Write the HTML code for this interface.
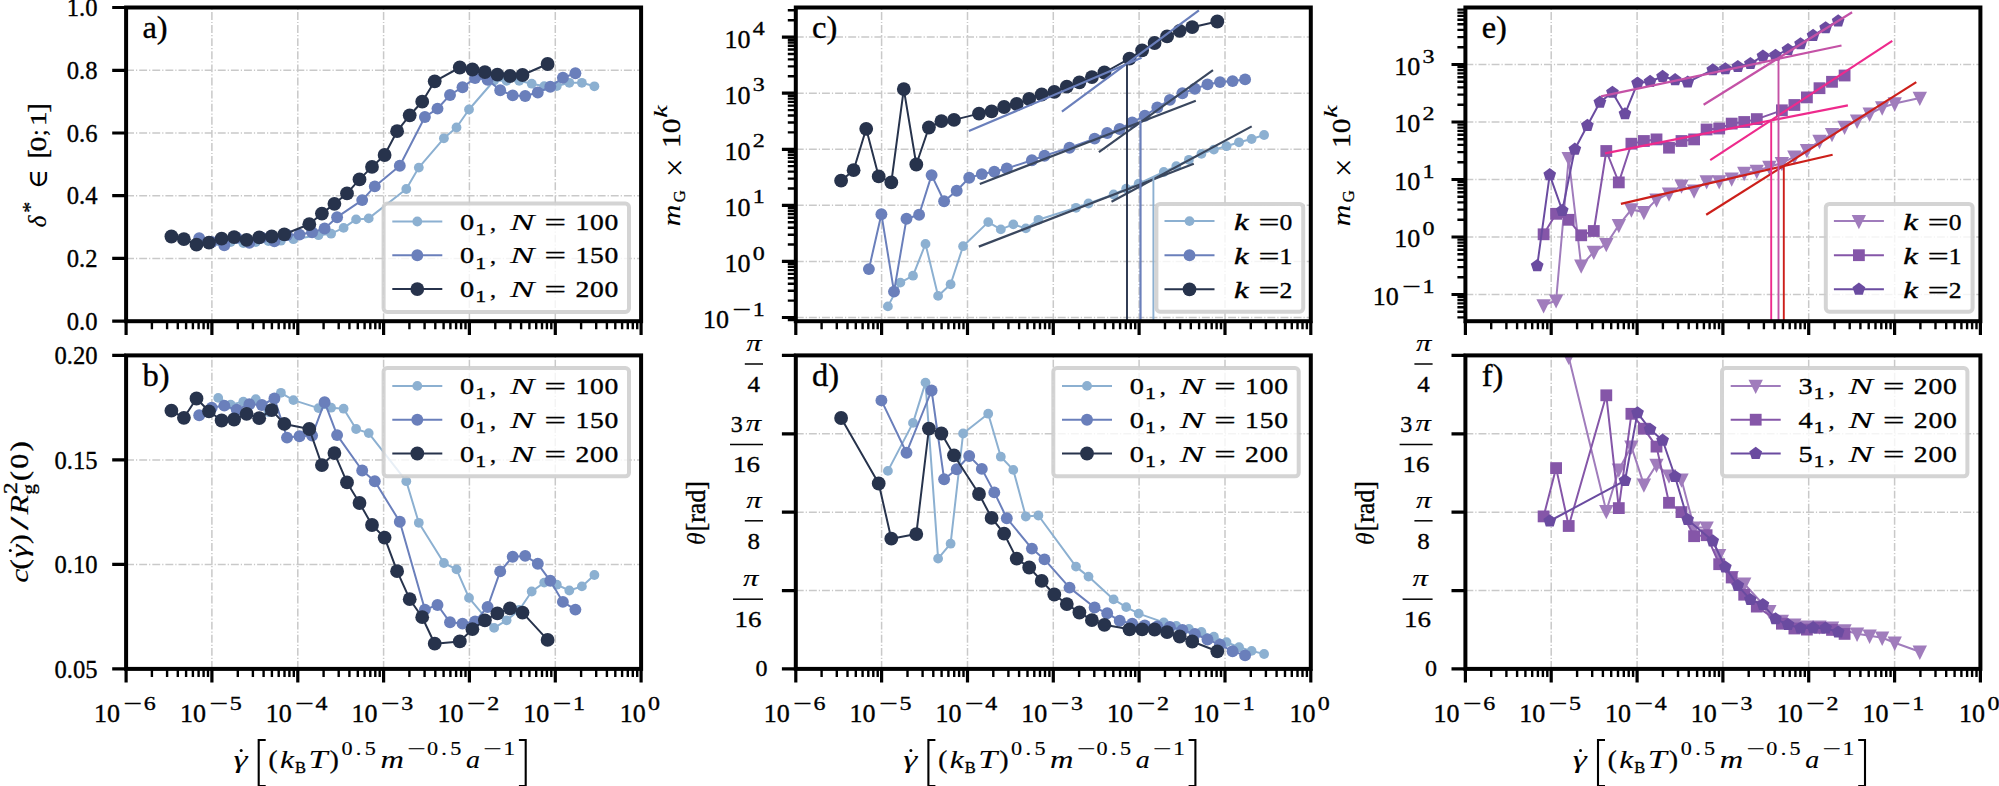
<!DOCTYPE html>
<html><head><meta charset="utf-8"><title>Figure</title>
<style>
html,body{margin:0;padding:0;background:#fff;}
svg{display:block}
text{font-family:"Liberation Serif","DejaVu Serif",serif;fill:#000;stroke:#000;stroke-width:0.35px}
.i{font-style:italic;stroke-width:0.1px}
.bi{font-style:italic;font-weight:bold}
</style></head><body>
<svg width="1999" height="786" viewBox="0 0 1999 786">
<rect width="1999" height="786" fill="#fff"/>
<defs>
<clipPath id="cpa"><rect x="126.1" y="7.5" width="515.0" height="313.7"/></clipPath>
<clipPath id="cpb"><rect x="126.1" y="355.4" width="515.0" height="313.5"/></clipPath>
<clipPath id="cpc"><rect x="795.8" y="7.5" width="515.0" height="313.7"/></clipPath>
<clipPath id="cpd"><rect x="795.8" y="355.4" width="515.0" height="313.5"/></clipPath>
<clipPath id="cpe"><rect x="1465.4" y="7.5" width="515.0" height="313.7"/></clipPath>
<clipPath id="cpf"><rect x="1465.4" y="355.4" width="515.0" height="313.5"/></clipPath>
</defs>
<g id="panel-a">
<path d="M211.9 321.2V7.5M297.8 321.2V7.5M383.6 321.2V7.5M469.4 321.2V7.5M555.3 321.2V7.5M126.1 70.3H641.1M126.1 133.0H641.1M126.1 195.7H641.1M126.1 258.4H641.1" stroke="#c9c9c9" stroke-width="1.5" stroke-dasharray="7.9 2 1.2 2" fill="none"/>
<g clip-path="url(#cpa)">
<polyline fill="none" stroke="#8cb0d1" stroke-width="2.0" stroke-linejoin="round" points="218.2,241.0 230.7,242.0 243.3,243.0 255.8,242.0 268.4,241.0 280.9,240.7 293.4,239.2 318.5,235.2 331.1,233.7 343.6,227.9 356.1,219.4 368.7,218.4 406.3,189.0 418.8,167.6 443.9,138.3 456.5,127.5 469.0,109.5 494.1,80.5 506.6,80.8 519.2,80.8 531.7,83.7 544.2,86.2 556.8,86.0 569.3,82.8 581.9,82.8 594.4,86.3"/><circle cx="218.2" cy="241.0" r="4.90" fill="#8cb0d1"/><circle cx="230.7" cy="242.0" r="4.90" fill="#8cb0d1"/><circle cx="243.3" cy="243.0" r="4.90" fill="#8cb0d1"/><circle cx="255.8" cy="242.0" r="4.90" fill="#8cb0d1"/><circle cx="268.4" cy="241.0" r="4.90" fill="#8cb0d1"/><circle cx="280.9" cy="240.7" r="4.90" fill="#8cb0d1"/><circle cx="293.4" cy="239.2" r="4.90" fill="#8cb0d1"/><circle cx="318.5" cy="235.2" r="4.90" fill="#8cb0d1"/><circle cx="331.1" cy="233.7" r="4.90" fill="#8cb0d1"/><circle cx="343.6" cy="227.9" r="4.90" fill="#8cb0d1"/><circle cx="356.1" cy="219.4" r="4.90" fill="#8cb0d1"/><circle cx="368.7" cy="218.4" r="4.90" fill="#8cb0d1"/><circle cx="406.3" cy="189.0" r="4.90" fill="#8cb0d1"/><circle cx="418.8" cy="167.6" r="4.90" fill="#8cb0d1"/><circle cx="443.9" cy="138.3" r="4.90" fill="#8cb0d1"/><circle cx="456.5" cy="127.5" r="4.90" fill="#8cb0d1"/><circle cx="469.0" cy="109.5" r="4.90" fill="#8cb0d1"/><circle cx="494.1" cy="80.5" r="4.90" fill="#8cb0d1"/><circle cx="506.6" cy="80.8" r="4.90" fill="#8cb0d1"/><circle cx="519.2" cy="80.8" r="4.90" fill="#8cb0d1"/><circle cx="531.7" cy="83.7" r="4.90" fill="#8cb0d1"/><circle cx="544.2" cy="86.2" r="4.90" fill="#8cb0d1"/><circle cx="556.8" cy="86.0" r="4.90" fill="#8cb0d1"/><circle cx="569.3" cy="82.8" r="4.90" fill="#8cb0d1"/><circle cx="581.9" cy="82.8" r="4.90" fill="#8cb0d1"/><circle cx="594.4" cy="86.3" r="4.90" fill="#8cb0d1"/>
<polyline fill="none" stroke="#6a7fbb" stroke-width="2.0" stroke-linejoin="round" points="199.2,238.3 211.7,242.0 224.3,245.3 236.8,237.9 249.4,242.9 261.9,237.6 274.4,241.3 287.0,235.0 299.5,234.6 312.1,232.2 324.6,228.5 337.1,217.2 362.2,200.1 374.8,186.4 399.8,165.7 424.9,117.0 437.5,108.6 450.0,95.0 462.5,87.2 475.1,78.1 487.6,79.7 500.2,90.3 512.7,95.4 525.2,96.0 537.8,92.5 550.3,86.8 562.9,77.7 575.4,73.2"/><circle cx="199.2" cy="238.3" r="5.95" fill="#6a7fbb"/><circle cx="211.7" cy="242.0" r="5.95" fill="#6a7fbb"/><circle cx="224.3" cy="245.3" r="5.95" fill="#6a7fbb"/><circle cx="236.8" cy="237.9" r="5.95" fill="#6a7fbb"/><circle cx="249.4" cy="242.9" r="5.95" fill="#6a7fbb"/><circle cx="261.9" cy="237.6" r="5.95" fill="#6a7fbb"/><circle cx="274.4" cy="241.3" r="5.95" fill="#6a7fbb"/><circle cx="287.0" cy="235.0" r="5.95" fill="#6a7fbb"/><circle cx="299.5" cy="234.6" r="5.95" fill="#6a7fbb"/><circle cx="312.1" cy="232.2" r="5.95" fill="#6a7fbb"/><circle cx="324.6" cy="228.5" r="5.95" fill="#6a7fbb"/><circle cx="337.1" cy="217.2" r="5.95" fill="#6a7fbb"/><circle cx="362.2" cy="200.1" r="5.95" fill="#6a7fbb"/><circle cx="374.8" cy="186.4" r="5.95" fill="#6a7fbb"/><circle cx="399.8" cy="165.7" r="5.95" fill="#6a7fbb"/><circle cx="424.9" cy="117.0" r="5.95" fill="#6a7fbb"/><circle cx="437.5" cy="108.6" r="5.95" fill="#6a7fbb"/><circle cx="450.0" cy="95.0" r="5.95" fill="#6a7fbb"/><circle cx="462.5" cy="87.2" r="5.95" fill="#6a7fbb"/><circle cx="475.1" cy="78.1" r="5.95" fill="#6a7fbb"/><circle cx="487.6" cy="79.7" r="5.95" fill="#6a7fbb"/><circle cx="500.2" cy="90.3" r="5.95" fill="#6a7fbb"/><circle cx="512.7" cy="95.4" r="5.95" fill="#6a7fbb"/><circle cx="525.2" cy="96.0" r="5.95" fill="#6a7fbb"/><circle cx="537.8" cy="92.5" r="5.95" fill="#6a7fbb"/><circle cx="550.3" cy="86.8" r="5.95" fill="#6a7fbb"/><circle cx="562.9" cy="77.7" r="5.95" fill="#6a7fbb"/><circle cx="575.4" cy="73.2" r="5.95" fill="#6a7fbb"/>
<polyline fill="none" stroke="#27334c" stroke-width="2.0" stroke-linejoin="round" points="171.4,236.5 183.9,239.2 196.5,244.7 209.0,242.6 221.6,238.6 234.1,237.1 246.6,239.8 259.2,237.4 271.7,236.5 284.3,234.3 309.3,224.2 321.9,213.6 334.4,203.8 347.0,193.4 359.5,179.4 372.0,166.9 384.6,155.0 397.1,131.2 409.7,115.3 422.2,101.7 434.7,81.3 459.8,67.5 472.4,69.5 484.9,72.2 497.4,74.6 510.0,76.0 522.5,75.0 547.6,64.0"/><circle cx="171.4" cy="236.5" r="6.90" fill="#27334c"/><circle cx="183.9" cy="239.2" r="6.90" fill="#27334c"/><circle cx="196.5" cy="244.7" r="6.90" fill="#27334c"/><circle cx="209.0" cy="242.6" r="6.90" fill="#27334c"/><circle cx="221.6" cy="238.6" r="6.90" fill="#27334c"/><circle cx="234.1" cy="237.1" r="6.90" fill="#27334c"/><circle cx="246.6" cy="239.8" r="6.90" fill="#27334c"/><circle cx="259.2" cy="237.4" r="6.90" fill="#27334c"/><circle cx="271.7" cy="236.5" r="6.90" fill="#27334c"/><circle cx="284.3" cy="234.3" r="6.90" fill="#27334c"/><circle cx="309.3" cy="224.2" r="6.90" fill="#27334c"/><circle cx="321.9" cy="213.6" r="6.90" fill="#27334c"/><circle cx="334.4" cy="203.8" r="6.90" fill="#27334c"/><circle cx="347.0" cy="193.4" r="6.90" fill="#27334c"/><circle cx="359.5" cy="179.4" r="6.90" fill="#27334c"/><circle cx="372.0" cy="166.9" r="6.90" fill="#27334c"/><circle cx="384.6" cy="155.0" r="6.90" fill="#27334c"/><circle cx="397.1" cy="131.2" r="6.90" fill="#27334c"/><circle cx="409.7" cy="115.3" r="6.90" fill="#27334c"/><circle cx="422.2" cy="101.7" r="6.90" fill="#27334c"/><circle cx="434.7" cy="81.3" r="6.90" fill="#27334c"/><circle cx="459.8" cy="67.5" r="6.90" fill="#27334c"/><circle cx="472.4" cy="69.5" r="6.90" fill="#27334c"/><circle cx="484.9" cy="72.2" r="6.90" fill="#27334c"/><circle cx="497.4" cy="74.6" r="6.90" fill="#27334c"/><circle cx="510.0" cy="76.0" r="6.90" fill="#27334c"/><circle cx="522.5" cy="75.0" r="6.90" fill="#27334c"/><circle cx="547.6" cy="64.0" r="6.90" fill="#27334c"/>
</g>
<path d="M151.9 321.2v8M167.1 321.2v8M177.8 321.2v8M186.1 321.2v8M192.9 321.2v8M198.6 321.2v8M203.6 321.2v8M208.0 321.2v8M237.8 321.2v8M252.9 321.2v8M263.6 321.2v8M271.9 321.2v8M278.7 321.2v8M284.5 321.2v8M289.4 321.2v8M293.8 321.2v8M323.6 321.2v8M338.7 321.2v8M349.4 321.2v8M357.8 321.2v8M364.6 321.2v8M370.3 321.2v8M375.3 321.2v8M379.7 321.2v8M409.4 321.2v8M424.6 321.2v8M435.3 321.2v8M443.6 321.2v8M450.4 321.2v8M456.1 321.2v8M461.1 321.2v8M465.5 321.2v8M495.3 321.2v8M510.4 321.2v8M521.1 321.2v8M529.4 321.2v8M536.2 321.2v8M542.0 321.2v8M546.9 321.2v8M551.3 321.2v8M581.1 321.2v8M596.2 321.2v8M606.9 321.2v8M615.3 321.2v8M622.1 321.2v8M627.8 321.2v8M632.8 321.2v8M637.2 321.2v8" stroke="#000" stroke-width="2.4" fill="none"/>
<path d="M126.1 321.2v13.7M211.9 321.2v13.7M297.8 321.2v13.7M383.6 321.2v13.7M469.4 321.2v13.7M555.3 321.2v13.7M641.1 321.2v13.7M126.1 7.5h-13.9M126.1 70.3h-13.9M126.1 133.0h-13.9M126.1 195.7h-13.9M126.1 258.4h-13.9M126.1 321.2h-13.9" stroke="#000" stroke-width="3.2" fill="none"/>
<rect x="126.1" y="7.5" width="515.0" height="313.7" fill="none" stroke="#000" stroke-width="4"/>
<text x="142.4" y="37.9" font-size="32.5">a)</text>
</g>
<g id="panel-b">
<path d="M211.9 668.9V355.4M297.8 668.9V355.4M383.6 668.9V355.4M469.4 668.9V355.4M555.3 668.9V355.4M126.1 459.9H641.1M126.1 564.4H641.1" stroke="#c9c9c9" stroke-width="1.5" stroke-dasharray="7.9 2 1.2 2" fill="none"/>
<g clip-path="url(#cpb)">
<polyline fill="none" stroke="#8cb0d1" stroke-width="2.0" stroke-linejoin="round" points="218.2,397.9 230.7,404.6 243.3,401.6 255.8,399.1 268.4,412.0 280.9,392.8 293.4,400.1 318.5,408.1 331.1,407.7 343.6,408.7 356.1,429.0 368.7,433.1 406.3,481.2 418.8,522.8 443.9,563.0 456.5,569.4 469.0,597.9 494.1,627.9 506.6,620.3 519.2,610.0 531.7,591.5 544.2,582.6 556.8,584.7 569.3,590.5 581.9,586.4 594.4,575.0"/><circle cx="218.2" cy="397.9" r="4.90" fill="#8cb0d1"/><circle cx="230.7" cy="404.6" r="4.90" fill="#8cb0d1"/><circle cx="243.3" cy="401.6" r="4.90" fill="#8cb0d1"/><circle cx="255.8" cy="399.1" r="4.90" fill="#8cb0d1"/><circle cx="268.4" cy="412.0" r="4.90" fill="#8cb0d1"/><circle cx="280.9" cy="392.8" r="4.90" fill="#8cb0d1"/><circle cx="293.4" cy="400.1" r="4.90" fill="#8cb0d1"/><circle cx="318.5" cy="408.1" r="4.90" fill="#8cb0d1"/><circle cx="331.1" cy="407.7" r="4.90" fill="#8cb0d1"/><circle cx="343.6" cy="408.7" r="4.90" fill="#8cb0d1"/><circle cx="356.1" cy="429.0" r="4.90" fill="#8cb0d1"/><circle cx="368.7" cy="433.1" r="4.90" fill="#8cb0d1"/><circle cx="406.3" cy="481.2" r="4.90" fill="#8cb0d1"/><circle cx="418.8" cy="522.8" r="4.90" fill="#8cb0d1"/><circle cx="443.9" cy="563.0" r="4.90" fill="#8cb0d1"/><circle cx="456.5" cy="569.4" r="4.90" fill="#8cb0d1"/><circle cx="469.0" cy="597.9" r="4.90" fill="#8cb0d1"/><circle cx="494.1" cy="627.9" r="4.90" fill="#8cb0d1"/><circle cx="506.6" cy="620.3" r="4.90" fill="#8cb0d1"/><circle cx="519.2" cy="610.0" r="4.90" fill="#8cb0d1"/><circle cx="531.7" cy="591.5" r="4.90" fill="#8cb0d1"/><circle cx="544.2" cy="582.6" r="4.90" fill="#8cb0d1"/><circle cx="556.8" cy="584.7" r="4.90" fill="#8cb0d1"/><circle cx="569.3" cy="590.5" r="4.90" fill="#8cb0d1"/><circle cx="581.9" cy="586.4" r="4.90" fill="#8cb0d1"/><circle cx="594.4" cy="575.0" r="4.90" fill="#8cb0d1"/>
<polyline fill="none" stroke="#6a7fbb" stroke-width="2.0" stroke-linejoin="round" points="199.2,415.2 211.7,407.7 224.3,405.6 236.8,409.7 249.4,404.2 261.9,405.0 274.4,398.5 287.0,437.6 299.5,436.2 312.1,435.6 324.6,402.2 337.1,435.1 362.2,470.5 374.8,481.2 399.8,521.8 424.9,609.6 437.5,605.0 450.0,622.3 462.5,623.6 475.1,621.5 487.6,607.0 500.2,571.4 512.7,556.7 525.2,555.9 537.8,563.8 550.3,580.8 562.9,601.9 575.4,609.6"/><circle cx="199.2" cy="415.2" r="5.95" fill="#6a7fbb"/><circle cx="211.7" cy="407.7" r="5.95" fill="#6a7fbb"/><circle cx="224.3" cy="405.6" r="5.95" fill="#6a7fbb"/><circle cx="236.8" cy="409.7" r="5.95" fill="#6a7fbb"/><circle cx="249.4" cy="404.2" r="5.95" fill="#6a7fbb"/><circle cx="261.9" cy="405.0" r="5.95" fill="#6a7fbb"/><circle cx="274.4" cy="398.5" r="5.95" fill="#6a7fbb"/><circle cx="287.0" cy="437.6" r="5.95" fill="#6a7fbb"/><circle cx="299.5" cy="436.2" r="5.95" fill="#6a7fbb"/><circle cx="312.1" cy="435.6" r="5.95" fill="#6a7fbb"/><circle cx="324.6" cy="402.2" r="5.95" fill="#6a7fbb"/><circle cx="337.1" cy="435.1" r="5.95" fill="#6a7fbb"/><circle cx="362.2" cy="470.5" r="5.95" fill="#6a7fbb"/><circle cx="374.8" cy="481.2" r="5.95" fill="#6a7fbb"/><circle cx="399.8" cy="521.8" r="5.95" fill="#6a7fbb"/><circle cx="424.9" cy="609.6" r="5.95" fill="#6a7fbb"/><circle cx="437.5" cy="605.0" r="5.95" fill="#6a7fbb"/><circle cx="450.0" cy="622.3" r="5.95" fill="#6a7fbb"/><circle cx="462.5" cy="623.6" r="5.95" fill="#6a7fbb"/><circle cx="475.1" cy="621.5" r="5.95" fill="#6a7fbb"/><circle cx="487.6" cy="607.0" r="5.95" fill="#6a7fbb"/><circle cx="500.2" cy="571.4" r="5.95" fill="#6a7fbb"/><circle cx="512.7" cy="556.7" r="5.95" fill="#6a7fbb"/><circle cx="525.2" cy="555.9" r="5.95" fill="#6a7fbb"/><circle cx="537.8" cy="563.8" r="5.95" fill="#6a7fbb"/><circle cx="550.3" cy="580.8" r="5.95" fill="#6a7fbb"/><circle cx="562.9" cy="601.9" r="5.95" fill="#6a7fbb"/><circle cx="575.4" cy="609.6" r="5.95" fill="#6a7fbb"/>
<polyline fill="none" stroke="#27334c" stroke-width="2.0" stroke-linejoin="round" points="171.4,410.7 183.9,417.8 196.5,398.5 209.0,411.3 221.6,420.5 234.1,419.5 246.6,413.8 259.2,418.2 271.7,410.1 284.3,423.9 309.3,429.0 321.9,465.1 334.4,453.1 347.0,482.4 359.5,503.0 372.0,525.0 384.6,537.6 397.1,571.2 409.7,599.2 422.2,617.2 434.7,643.7 459.8,641.4 472.4,629.2 484.9,620.3 497.4,613.4 510.0,608.3 522.5,612.6 547.6,639.9"/><circle cx="171.4" cy="410.7" r="6.90" fill="#27334c"/><circle cx="183.9" cy="417.8" r="6.90" fill="#27334c"/><circle cx="196.5" cy="398.5" r="6.90" fill="#27334c"/><circle cx="209.0" cy="411.3" r="6.90" fill="#27334c"/><circle cx="221.6" cy="420.5" r="6.90" fill="#27334c"/><circle cx="234.1" cy="419.5" r="6.90" fill="#27334c"/><circle cx="246.6" cy="413.8" r="6.90" fill="#27334c"/><circle cx="259.2" cy="418.2" r="6.90" fill="#27334c"/><circle cx="271.7" cy="410.1" r="6.90" fill="#27334c"/><circle cx="284.3" cy="423.9" r="6.90" fill="#27334c"/><circle cx="309.3" cy="429.0" r="6.90" fill="#27334c"/><circle cx="321.9" cy="465.1" r="6.90" fill="#27334c"/><circle cx="334.4" cy="453.1" r="6.90" fill="#27334c"/><circle cx="347.0" cy="482.4" r="6.90" fill="#27334c"/><circle cx="359.5" cy="503.0" r="6.90" fill="#27334c"/><circle cx="372.0" cy="525.0" r="6.90" fill="#27334c"/><circle cx="384.6" cy="537.6" r="6.90" fill="#27334c"/><circle cx="397.1" cy="571.2" r="6.90" fill="#27334c"/><circle cx="409.7" cy="599.2" r="6.90" fill="#27334c"/><circle cx="422.2" cy="617.2" r="6.90" fill="#27334c"/><circle cx="434.7" cy="643.7" r="6.90" fill="#27334c"/><circle cx="459.8" cy="641.4" r="6.90" fill="#27334c"/><circle cx="472.4" cy="629.2" r="6.90" fill="#27334c"/><circle cx="484.9" cy="620.3" r="6.90" fill="#27334c"/><circle cx="497.4" cy="613.4" r="6.90" fill="#27334c"/><circle cx="510.0" cy="608.3" r="6.90" fill="#27334c"/><circle cx="522.5" cy="612.6" r="6.90" fill="#27334c"/><circle cx="547.6" cy="639.9" r="6.90" fill="#27334c"/>
</g>
<path d="M151.9 668.9v8M167.1 668.9v8M177.8 668.9v8M186.1 668.9v8M192.9 668.9v8M198.6 668.9v8M203.6 668.9v8M208.0 668.9v8M237.8 668.9v8M252.9 668.9v8M263.6 668.9v8M271.9 668.9v8M278.7 668.9v8M284.5 668.9v8M289.4 668.9v8M293.8 668.9v8M323.6 668.9v8M338.7 668.9v8M349.4 668.9v8M357.8 668.9v8M364.6 668.9v8M370.3 668.9v8M375.3 668.9v8M379.7 668.9v8M409.4 668.9v8M424.6 668.9v8M435.3 668.9v8M443.6 668.9v8M450.4 668.9v8M456.1 668.9v8M461.1 668.9v8M465.5 668.9v8M495.3 668.9v8M510.4 668.9v8M521.1 668.9v8M529.4 668.9v8M536.2 668.9v8M542.0 668.9v8M546.9 668.9v8M551.3 668.9v8M581.1 668.9v8M596.2 668.9v8M606.9 668.9v8M615.3 668.9v8M622.1 668.9v8M627.8 668.9v8M632.8 668.9v8M637.2 668.9v8" stroke="#000" stroke-width="2.4" fill="none"/>
<path d="M126.1 668.9v13.7M211.9 668.9v13.7M297.8 668.9v13.7M383.6 668.9v13.7M469.4 668.9v13.7M555.3 668.9v13.7M641.1 668.9v13.7M126.1 355.4h-13.9M126.1 459.9h-13.9M126.1 564.4h-13.9M126.1 668.9h-13.9" stroke="#000" stroke-width="3.2" fill="none"/>
<rect x="126.1" y="355.4" width="515.0" height="313.5" fill="none" stroke="#000" stroke-width="4"/>
<text x="142.4" y="385.8" font-size="32.5">b)</text>
<text transform="translate(94.0 722.4) scale(1.032 1)" font-size="25.2">10</text><text transform="translate(123.6 710.1) scale(1.682 1)" font-size="19.5">−</text><text transform="translate(143.8 710.1) scale(1.231 1)" font-size="19.5">6</text>
<text transform="translate(179.9 722.4) scale(1.032 1)" font-size="25.2">10</text><text transform="translate(209.5 710.1) scale(1.682 1)" font-size="19.5">−</text><text transform="translate(229.7 710.1) scale(1.231 1)" font-size="19.5">5</text>
<text transform="translate(265.7 722.4) scale(1.032 1)" font-size="25.2">10</text><text transform="translate(295.3 710.1) scale(1.682 1)" font-size="19.5">−</text><text transform="translate(315.5 710.1) scale(1.231 1)" font-size="19.5">4</text>
<text transform="translate(351.5 722.4) scale(1.032 1)" font-size="25.2">10</text><text transform="translate(381.1 710.1) scale(1.682 1)" font-size="19.5">−</text><text transform="translate(401.3 710.1) scale(1.231 1)" font-size="19.5">3</text>
<text transform="translate(437.4 722.4) scale(1.032 1)" font-size="25.2">10</text><text transform="translate(467.0 710.1) scale(1.682 1)" font-size="19.5">−</text><text transform="translate(487.2 710.1) scale(1.231 1)" font-size="19.5">2</text>
<text transform="translate(523.2 722.4) scale(1.032 1)" font-size="25.2">10</text><text transform="translate(552.8 710.1) scale(1.682 1)" font-size="19.5">−</text><text transform="translate(573.0 710.1) scale(1.231 1)" font-size="19.5">1</text>
<text transform="translate(619.8 722.4) scale(1.032 1)" font-size="25.2">10</text><text transform="translate(648.1 710.1) scale(1.231 1)" font-size="19.5">0</text>
<text transform="translate(233.5 768.0) scale(1.421 1)" font-size="25" class="i">γ</text>
<circle cx="241.2" cy="750.5" r="1.5" fill="#000"/>
<path d="M265.7 740H258.7V786H265.7M518.9 740H525.7V786H518.9" stroke="#000" stroke-width="2.1" fill="none"/>
<text transform="translate(268.5 768.0) scale(1.081 1)" font-size="25">(</text>
<text transform="translate(280.0 768.0) scale(1.262 1)" font-size="25" class="i">k</text>
<text transform="translate(295.0 773.0) scale(0.942 1)" font-size="17.5">B</text>
<text transform="translate(308.5 768.0) scale(1.366 1)" font-size="25" class="i">T</text>
<text transform="translate(329.7 768.0) scale(1.081 1)" font-size="25">)</text>
<text transform="translate(341.4 755.0) scale(1.200 1)" font-size="18.5" letter-spacing="2.81" style="stroke-width:0.15px">0.5</text>
<text transform="translate(380.4 768.0) scale(1.302 1)" font-size="25" class="i">m</text>
<text transform="translate(407.2 755.0) scale(1.773 1)" font-size="18.5" style="stroke-width:0.15px">−</text>
<text transform="translate(426.9 755.0) scale(1.200 1)" font-size="18.5" letter-spacing="2.81" style="stroke-width:0.15px">0.5</text>
<text transform="translate(466.0 768.0) scale(1.120 1)" font-size="25" class="i">a</text>
<text transform="translate(483.2 755.0) scale(1.773 1)" font-size="18.5" style="stroke-width:0.15px">−</text>
<text transform="translate(503.2 755.0) scale(1.297 1)" font-size="18.5" style="stroke-width:0.15px">1</text>
</g>
<g id="panel-c">
<path d="M881.6 321.2V7.5M967.5 321.2V7.5M1053.3 321.2V7.5M1139.1 321.2V7.5M1225.0 321.2V7.5M795.8 317.5H1310.8M795.8 261.4H1310.8M795.8 205.3H1310.8M795.8 149.3H1310.8M795.8 93.2H1310.8M795.8 37.1H1310.8" stroke="#c9c9c9" stroke-width="1.5" stroke-dasharray="7.9 2 1.2 2" fill="none"/>
<g clip-path="url(#cpc)">
<polyline fill="none" stroke="#8cb0d1" stroke-width="2.0" stroke-linejoin="round" points="887.9,306.4 900.4,282.6 913.0,275.7 925.5,243.9 938.1,295.9 950.6,284.3 963.1,246.2 988.2,222.1 1000.8,229.4 1013.3,224.4 1025.8,228.4 1038.4,219.8 1076.0,207.8 1088.5,203.5 1113.6,194.5 1126.2,188.6 1138.7,183.6 1163.8,172.0 1176.3,166.1 1188.9,159.8 1201.4,153.9 1213.9,149.6 1226.5,146.2 1239.0,142.3 1251.6,139.0 1264.1,135.0"/><circle cx="887.9" cy="306.4" r="4.90" fill="#8cb0d1"/><circle cx="900.4" cy="282.6" r="4.90" fill="#8cb0d1"/><circle cx="913.0" cy="275.7" r="4.90" fill="#8cb0d1"/><circle cx="925.5" cy="243.9" r="4.90" fill="#8cb0d1"/><circle cx="938.1" cy="295.9" r="4.90" fill="#8cb0d1"/><circle cx="950.6" cy="284.3" r="4.90" fill="#8cb0d1"/><circle cx="963.1" cy="246.2" r="4.90" fill="#8cb0d1"/><circle cx="988.2" cy="222.1" r="4.90" fill="#8cb0d1"/><circle cx="1000.8" cy="229.4" r="4.90" fill="#8cb0d1"/><circle cx="1013.3" cy="224.4" r="4.90" fill="#8cb0d1"/><circle cx="1025.8" cy="228.4" r="4.90" fill="#8cb0d1"/><circle cx="1038.4" cy="219.8" r="4.90" fill="#8cb0d1"/><circle cx="1076.0" cy="207.8" r="4.90" fill="#8cb0d1"/><circle cx="1088.5" cy="203.5" r="4.90" fill="#8cb0d1"/><circle cx="1113.6" cy="194.5" r="4.90" fill="#8cb0d1"/><circle cx="1126.2" cy="188.6" r="4.90" fill="#8cb0d1"/><circle cx="1138.7" cy="183.6" r="4.90" fill="#8cb0d1"/><circle cx="1163.8" cy="172.0" r="4.90" fill="#8cb0d1"/><circle cx="1176.3" cy="166.1" r="4.90" fill="#8cb0d1"/><circle cx="1188.9" cy="159.8" r="4.90" fill="#8cb0d1"/><circle cx="1201.4" cy="153.9" r="4.90" fill="#8cb0d1"/><circle cx="1213.9" cy="149.6" r="4.90" fill="#8cb0d1"/><circle cx="1226.5" cy="146.2" r="4.90" fill="#8cb0d1"/><circle cx="1239.0" cy="142.3" r="4.90" fill="#8cb0d1"/><circle cx="1251.6" cy="139.0" r="4.90" fill="#8cb0d1"/><circle cx="1264.1" cy="135.0" r="4.90" fill="#8cb0d1"/>
<line x1="978.8" y1="246.6" x2="1193.8" y2="163.8" stroke="#3a475e" stroke-width="2.2"/>
<line x1="1111.5" y1="201.8" x2="1251.7" y2="126.4" stroke="#3a475e" stroke-width="2.2"/>
<line x1="1153.4" y1="177.0" x2="1153.4" y2="322.0" stroke="#8cb0d1" stroke-width="1.9"/>
<polyline fill="none" stroke="#6a7fbb" stroke-width="2.0" stroke-linejoin="round" points="868.9,269.1 881.4,214.2 894.0,291.6 906.5,218.8 919.1,214.8 931.6,175.1 944.1,201.3 956.7,190.7 969.2,177.8 981.8,174.1 994.3,171.8 1006.8,168.5 1031.9,160.2 1044.5,155.7 1069.5,147.8 1094.6,138.6 1107.2,133.0 1119.7,129.0 1132.2,122.4 1144.8,115.8 1157.3,107.5 1169.9,99.9 1182.4,93.3 1194.9,88.7 1207.5,84.4 1220.0,82.1 1232.6,81.1 1245.1,79.4"/><circle cx="868.9" cy="269.1" r="5.95" fill="#6a7fbb"/><circle cx="881.4" cy="214.2" r="5.95" fill="#6a7fbb"/><circle cx="894.0" cy="291.6" r="5.95" fill="#6a7fbb"/><circle cx="906.5" cy="218.8" r="5.95" fill="#6a7fbb"/><circle cx="919.1" cy="214.8" r="5.95" fill="#6a7fbb"/><circle cx="931.6" cy="175.1" r="5.95" fill="#6a7fbb"/><circle cx="944.1" cy="201.3" r="5.95" fill="#6a7fbb"/><circle cx="956.7" cy="190.7" r="5.95" fill="#6a7fbb"/><circle cx="969.2" cy="177.8" r="5.95" fill="#6a7fbb"/><circle cx="981.8" cy="174.1" r="5.95" fill="#6a7fbb"/><circle cx="994.3" cy="171.8" r="5.95" fill="#6a7fbb"/><circle cx="1006.8" cy="168.5" r="5.95" fill="#6a7fbb"/><circle cx="1031.9" cy="160.2" r="5.95" fill="#6a7fbb"/><circle cx="1044.5" cy="155.7" r="5.95" fill="#6a7fbb"/><circle cx="1069.5" cy="147.8" r="5.95" fill="#6a7fbb"/><circle cx="1094.6" cy="138.6" r="5.95" fill="#6a7fbb"/><circle cx="1107.2" cy="133.0" r="5.95" fill="#6a7fbb"/><circle cx="1119.7" cy="129.0" r="5.95" fill="#6a7fbb"/><circle cx="1132.2" cy="122.4" r="5.95" fill="#6a7fbb"/><circle cx="1144.8" cy="115.8" r="5.95" fill="#6a7fbb"/><circle cx="1157.3" cy="107.5" r="5.95" fill="#6a7fbb"/><circle cx="1169.9" cy="99.9" r="5.95" fill="#6a7fbb"/><circle cx="1182.4" cy="93.3" r="5.95" fill="#6a7fbb"/><circle cx="1194.9" cy="88.7" r="5.95" fill="#6a7fbb"/><circle cx="1207.5" cy="84.4" r="5.95" fill="#6a7fbb"/><circle cx="1220.0" cy="82.1" r="5.95" fill="#6a7fbb"/><circle cx="1232.6" cy="81.1" r="5.95" fill="#6a7fbb"/><circle cx="1245.1" cy="79.4" r="5.95" fill="#6a7fbb"/>
<line x1="979.8" y1="184.0" x2="1195.8" y2="100.7" stroke="#3a475e" stroke-width="2.2"/>
<line x1="1098.9" y1="152.2" x2="1213.0" y2="70.2" stroke="#3a475e" stroke-width="2.2"/>
<line x1="1140.5" y1="120.8" x2="1140.5" y2="322.0" stroke="#6a7fbb" stroke-width="2.2"/>
<polyline fill="none" stroke="#27334c" stroke-width="2.0" stroke-linejoin="round" points="841.1,180.7 853.6,170.2 866.2,128.8 878.7,176.4 891.3,182.4 903.8,89.1 916.3,164.5 928.9,127.5 941.4,121.2 954.0,119.9 979.0,113.6 991.6,111.3 1004.1,107.0 1016.7,104.0 1029.2,99.0 1041.7,94.5 1054.3,91.9 1066.8,86.6 1079.4,82.3 1091.9,77.1 1104.4,72.5 1129.5,58.6 1142.1,50.3 1154.6,43.0 1167.1,36.4 1179.7,30.8 1192.2,27.2 1217.3,21.5"/><circle cx="841.1" cy="180.7" r="6.90" fill="#27334c"/><circle cx="853.6" cy="170.2" r="6.90" fill="#27334c"/><circle cx="866.2" cy="128.8" r="6.90" fill="#27334c"/><circle cx="878.7" cy="176.4" r="6.90" fill="#27334c"/><circle cx="891.3" cy="182.4" r="6.90" fill="#27334c"/><circle cx="903.8" cy="89.1" r="6.90" fill="#27334c"/><circle cx="916.3" cy="164.5" r="6.90" fill="#27334c"/><circle cx="928.9" cy="127.5" r="6.90" fill="#27334c"/><circle cx="941.4" cy="121.2" r="6.90" fill="#27334c"/><circle cx="954.0" cy="119.9" r="6.90" fill="#27334c"/><circle cx="979.0" cy="113.6" r="6.90" fill="#27334c"/><circle cx="991.6" cy="111.3" r="6.90" fill="#27334c"/><circle cx="1004.1" cy="107.0" r="6.90" fill="#27334c"/><circle cx="1016.7" cy="104.0" r="6.90" fill="#27334c"/><circle cx="1029.2" cy="99.0" r="6.90" fill="#27334c"/><circle cx="1041.7" cy="94.5" r="6.90" fill="#27334c"/><circle cx="1054.3" cy="91.9" r="6.90" fill="#27334c"/><circle cx="1066.8" cy="86.6" r="6.90" fill="#27334c"/><circle cx="1079.4" cy="82.3" r="6.90" fill="#27334c"/><circle cx="1091.9" cy="77.1" r="6.90" fill="#27334c"/><circle cx="1104.4" cy="72.5" r="6.90" fill="#27334c"/><circle cx="1129.5" cy="58.6" r="6.90" fill="#27334c"/><circle cx="1142.1" cy="50.3" r="6.90" fill="#27334c"/><circle cx="1154.6" cy="43.0" r="6.90" fill="#27334c"/><circle cx="1167.1" cy="36.4" r="6.90" fill="#27334c"/><circle cx="1179.7" cy="30.8" r="6.90" fill="#27334c"/><circle cx="1192.2" cy="27.2" r="6.90" fill="#27334c"/><circle cx="1217.3" cy="21.5" r="6.90" fill="#27334c"/>
<line x1="968.9" y1="131.1" x2="1141.6" y2="57.7" stroke="#6a7fbb" stroke-width="2.2"/>
<line x1="1061.9" y1="111.6" x2="1198.9" y2="10.3" stroke="#6a7fbb" stroke-width="2.2"/>
<line x1="1127.0" y1="64.5" x2="1127.0" y2="322.0" stroke="#27334c" stroke-width="1.9"/>
</g>
<path d="M821.6 321.2v8M836.8 321.2v8M847.5 321.2v8M855.8 321.2v8M862.6 321.2v8M868.3 321.2v8M873.3 321.2v8M877.7 321.2v8M907.5 321.2v8M922.6 321.2v8M933.3 321.2v8M941.6 321.2v8M948.4 321.2v8M954.2 321.2v8M959.1 321.2v8M963.5 321.2v8M993.3 321.2v8M1008.4 321.2v8M1019.1 321.2v8M1027.5 321.2v8M1034.3 321.2v8M1040.0 321.2v8M1045.0 321.2v8M1049.4 321.2v8M1079.1 321.2v8M1094.3 321.2v8M1105.0 321.2v8M1113.3 321.2v8M1120.1 321.2v8M1125.8 321.2v8M1130.8 321.2v8M1135.2 321.2v8M1165.0 321.2v8M1180.1 321.2v8M1190.8 321.2v8M1199.1 321.2v8M1205.9 321.2v8M1211.7 321.2v8M1216.6 321.2v8M1221.0 321.2v8M1250.8 321.2v8M1265.9 321.2v8M1276.6 321.2v8M1285.0 321.2v8M1291.8 321.2v8M1297.5 321.2v8M1302.5 321.2v8M1306.9 321.2v8M795.8 320.1h-8M795.8 300.6h-8M795.8 290.7h-8M795.8 283.7h-8M795.8 278.3h-8M795.8 273.9h-8M795.8 270.1h-8M795.8 266.9h-8M795.8 264.0h-8M795.8 244.5h-8M795.8 234.7h-8M795.8 227.7h-8M795.8 222.2h-8M795.8 217.8h-8M795.8 214.0h-8M795.8 210.8h-8M795.8 207.9h-8M795.8 188.5h-8M795.8 178.6h-8M795.8 171.6h-8M795.8 166.1h-8M795.8 161.7h-8M795.8 157.9h-8M795.8 154.7h-8M795.8 151.8h-8M795.8 132.4h-8M795.8 122.5h-8M795.8 115.5h-8M795.8 110.1h-8M795.8 105.6h-8M795.8 101.9h-8M795.8 98.6h-8M795.8 95.7h-8M795.8 76.3h-8M795.8 66.4h-8M795.8 59.4h-8M795.8 54.0h-8M795.8 49.5h-8M795.8 45.8h-8M795.8 42.5h-8M795.8 39.7h-8M795.8 20.2h-8M795.8 10.3h-8" stroke="#000" stroke-width="2.4" fill="none"/>
<path d="M795.8 321.2v13.7M881.6 321.2v13.7M967.5 321.2v13.7M1053.3 321.2v13.7M1139.1 321.2v13.7M1225.0 321.2v13.7M1310.8 321.2v13.7M795.8 317.5h-13.9M795.8 261.4h-13.9M795.8 205.3h-13.9M795.8 149.3h-13.9M795.8 93.2h-13.9M795.8 37.1h-13.9" stroke="#000" stroke-width="3.2" fill="none"/>
<rect x="795.8" y="7.5" width="515.0" height="313.7" fill="none" stroke="#000" stroke-width="4"/>
<text x="812.1" y="37.9" font-size="32.5">c)</text>
</g>
<g id="panel-d">
<path d="M881.6 668.9V355.4M967.5 668.9V355.4M1053.3 668.9V355.4M1139.1 668.9V355.4M1225.0 668.9V355.4M795.8 433.8H1310.8M795.8 512.2H1310.8M795.8 590.6H1310.8" stroke="#c9c9c9" stroke-width="1.5" stroke-dasharray="7.9 2 1.2 2" fill="none"/>
<g clip-path="url(#cpd)">
<polyline fill="none" stroke="#8cb0d1" stroke-width="2.0" stroke-linejoin="round" points="887.9,470.9 913.0,422.9 925.5,382.6 938.1,558.6 950.6,543.7 963.1,433.5 988.2,413.7 1000.8,456.7 1013.3,469.9 1025.8,516.5 1038.4,515.5 1076.0,566.6 1088.5,576.6 1113.6,599.4 1126.2,607.1 1138.7,613.6 1163.8,622.4 1176.3,625.9 1188.9,628.9 1201.4,632.0 1213.9,636.7 1226.5,642.1 1239.0,647.2 1251.6,650.9 1264.1,654.0"/><circle cx="887.9" cy="470.9" r="4.90" fill="#8cb0d1"/><circle cx="913.0" cy="422.9" r="4.90" fill="#8cb0d1"/><circle cx="925.5" cy="382.6" r="4.90" fill="#8cb0d1"/><circle cx="938.1" cy="558.6" r="4.90" fill="#8cb0d1"/><circle cx="950.6" cy="543.7" r="4.90" fill="#8cb0d1"/><circle cx="963.1" cy="433.5" r="4.90" fill="#8cb0d1"/><circle cx="988.2" cy="413.7" r="4.90" fill="#8cb0d1"/><circle cx="1000.8" cy="456.7" r="4.90" fill="#8cb0d1"/><circle cx="1013.3" cy="469.9" r="4.90" fill="#8cb0d1"/><circle cx="1025.8" cy="516.5" r="4.90" fill="#8cb0d1"/><circle cx="1038.4" cy="515.5" r="4.90" fill="#8cb0d1"/><circle cx="1076.0" cy="566.6" r="4.90" fill="#8cb0d1"/><circle cx="1088.5" cy="576.6" r="4.90" fill="#8cb0d1"/><circle cx="1113.6" cy="599.4" r="4.90" fill="#8cb0d1"/><circle cx="1126.2" cy="607.1" r="4.90" fill="#8cb0d1"/><circle cx="1138.7" cy="613.6" r="4.90" fill="#8cb0d1"/><circle cx="1163.8" cy="622.4" r="4.90" fill="#8cb0d1"/><circle cx="1176.3" cy="625.9" r="4.90" fill="#8cb0d1"/><circle cx="1188.9" cy="628.9" r="4.90" fill="#8cb0d1"/><circle cx="1201.4" cy="632.0" r="4.90" fill="#8cb0d1"/><circle cx="1213.9" cy="636.7" r="4.90" fill="#8cb0d1"/><circle cx="1226.5" cy="642.1" r="4.90" fill="#8cb0d1"/><circle cx="1239.0" cy="647.2" r="4.90" fill="#8cb0d1"/><circle cx="1251.6" cy="650.9" r="4.90" fill="#8cb0d1"/><circle cx="1264.1" cy="654.0" r="4.90" fill="#8cb0d1"/>
<polyline fill="none" stroke="#6a7fbb" stroke-width="2.0" stroke-linejoin="round" points="881.4,400.4 906.5,452.7 931.6,390.5 944.1,479.2 956.7,469.2 969.2,456.0 981.8,468.9 994.3,492.4 1006.8,518.2 1031.9,548.6 1044.5,559.4 1069.5,587.6 1094.6,607.5 1107.2,613.2 1119.7,620.8 1132.2,623.8 1144.8,625.5 1157.3,626.5 1169.9,626.9 1182.4,629.9 1194.9,634.0 1207.5,639.5 1220.0,644.6 1232.6,651.3 1245.1,655.4"/><circle cx="881.4" cy="400.4" r="5.95" fill="#6a7fbb"/><circle cx="906.5" cy="452.7" r="5.95" fill="#6a7fbb"/><circle cx="931.6" cy="390.5" r="5.95" fill="#6a7fbb"/><circle cx="944.1" cy="479.2" r="5.95" fill="#6a7fbb"/><circle cx="956.7" cy="469.2" r="5.95" fill="#6a7fbb"/><circle cx="969.2" cy="456.0" r="5.95" fill="#6a7fbb"/><circle cx="981.8" cy="468.9" r="5.95" fill="#6a7fbb"/><circle cx="994.3" cy="492.4" r="5.95" fill="#6a7fbb"/><circle cx="1006.8" cy="518.2" r="5.95" fill="#6a7fbb"/><circle cx="1031.9" cy="548.6" r="5.95" fill="#6a7fbb"/><circle cx="1044.5" cy="559.4" r="5.95" fill="#6a7fbb"/><circle cx="1069.5" cy="587.6" r="5.95" fill="#6a7fbb"/><circle cx="1094.6" cy="607.5" r="5.95" fill="#6a7fbb"/><circle cx="1107.2" cy="613.2" r="5.95" fill="#6a7fbb"/><circle cx="1119.7" cy="620.8" r="5.95" fill="#6a7fbb"/><circle cx="1132.2" cy="623.8" r="5.95" fill="#6a7fbb"/><circle cx="1144.8" cy="625.5" r="5.95" fill="#6a7fbb"/><circle cx="1157.3" cy="626.5" r="5.95" fill="#6a7fbb"/><circle cx="1169.9" cy="626.9" r="5.95" fill="#6a7fbb"/><circle cx="1182.4" cy="629.9" r="5.95" fill="#6a7fbb"/><circle cx="1194.9" cy="634.0" r="5.95" fill="#6a7fbb"/><circle cx="1207.5" cy="639.5" r="5.95" fill="#6a7fbb"/><circle cx="1220.0" cy="644.6" r="5.95" fill="#6a7fbb"/><circle cx="1232.6" cy="651.3" r="5.95" fill="#6a7fbb"/><circle cx="1245.1" cy="655.4" r="5.95" fill="#6a7fbb"/>
<polyline fill="none" stroke="#27334c" stroke-width="2.0" stroke-linejoin="round" points="841.1,418.0 878.7,483.5 891.3,538.7 916.3,534.1 928.9,428.6 941.4,433.5 954.0,455.3 979.0,494.0 991.6,517.9 1004.1,533.7 1016.7,558.6 1029.2,567.5 1041.7,580.9 1054.3,594.5 1066.8,604.1 1079.4,612.5 1091.9,620.2 1104.4,624.8 1129.5,629.3 1142.1,629.3 1154.6,629.5 1167.1,632.2 1179.7,636.5 1192.2,641.5 1217.3,651.3"/><circle cx="841.1" cy="418.0" r="6.90" fill="#27334c"/><circle cx="878.7" cy="483.5" r="6.90" fill="#27334c"/><circle cx="891.3" cy="538.7" r="6.90" fill="#27334c"/><circle cx="916.3" cy="534.1" r="6.90" fill="#27334c"/><circle cx="928.9" cy="428.6" r="6.90" fill="#27334c"/><circle cx="941.4" cy="433.5" r="6.90" fill="#27334c"/><circle cx="954.0" cy="455.3" r="6.90" fill="#27334c"/><circle cx="979.0" cy="494.0" r="6.90" fill="#27334c"/><circle cx="991.6" cy="517.9" r="6.90" fill="#27334c"/><circle cx="1004.1" cy="533.7" r="6.90" fill="#27334c"/><circle cx="1016.7" cy="558.6" r="6.90" fill="#27334c"/><circle cx="1029.2" cy="567.5" r="6.90" fill="#27334c"/><circle cx="1041.7" cy="580.9" r="6.90" fill="#27334c"/><circle cx="1054.3" cy="594.5" r="6.90" fill="#27334c"/><circle cx="1066.8" cy="604.1" r="6.90" fill="#27334c"/><circle cx="1079.4" cy="612.5" r="6.90" fill="#27334c"/><circle cx="1091.9" cy="620.2" r="6.90" fill="#27334c"/><circle cx="1104.4" cy="624.8" r="6.90" fill="#27334c"/><circle cx="1129.5" cy="629.3" r="6.90" fill="#27334c"/><circle cx="1142.1" cy="629.3" r="6.90" fill="#27334c"/><circle cx="1154.6" cy="629.5" r="6.90" fill="#27334c"/><circle cx="1167.1" cy="632.2" r="6.90" fill="#27334c"/><circle cx="1179.7" cy="636.5" r="6.90" fill="#27334c"/><circle cx="1192.2" cy="641.5" r="6.90" fill="#27334c"/><circle cx="1217.3" cy="651.3" r="6.90" fill="#27334c"/>
</g>
<path d="M821.6 668.9v8M836.8 668.9v8M847.5 668.9v8M855.8 668.9v8M862.6 668.9v8M868.3 668.9v8M873.3 668.9v8M877.7 668.9v8M907.5 668.9v8M922.6 668.9v8M933.3 668.9v8M941.6 668.9v8M948.4 668.9v8M954.2 668.9v8M959.1 668.9v8M963.5 668.9v8M993.3 668.9v8M1008.4 668.9v8M1019.1 668.9v8M1027.5 668.9v8M1034.3 668.9v8M1040.0 668.9v8M1045.0 668.9v8M1049.4 668.9v8M1079.1 668.9v8M1094.3 668.9v8M1105.0 668.9v8M1113.3 668.9v8M1120.1 668.9v8M1125.8 668.9v8M1130.8 668.9v8M1135.2 668.9v8M1165.0 668.9v8M1180.1 668.9v8M1190.8 668.9v8M1199.1 668.9v8M1205.9 668.9v8M1211.7 668.9v8M1216.6 668.9v8M1221.0 668.9v8M1250.8 668.9v8M1265.9 668.9v8M1276.6 668.9v8M1285.0 668.9v8M1291.8 668.9v8M1297.5 668.9v8M1302.5 668.9v8M1306.9 668.9v8" stroke="#000" stroke-width="2.4" fill="none"/>
<path d="M795.8 668.9v13.7M881.6 668.9v13.7M967.5 668.9v13.7M1053.3 668.9v13.7M1139.1 668.9v13.7M1225.0 668.9v13.7M1310.8 668.9v13.7M795.8 355.4h-13.9M795.8 433.8h-13.9M795.8 512.2h-13.9M795.8 590.6h-13.9M795.8 668.9h-13.9" stroke="#000" stroke-width="3.2" fill="none"/>
<rect x="795.8" y="355.4" width="515.0" height="313.5" fill="none" stroke="#000" stroke-width="4"/>
<text x="812.1" y="385.8" font-size="32.5">d)</text>
<text transform="translate(763.8 722.4) scale(1.032 1)" font-size="25.2">10</text><text transform="translate(793.3 710.1) scale(1.682 1)" font-size="19.5">−</text><text transform="translate(813.5 710.1) scale(1.231 1)" font-size="19.5">6</text>
<text transform="translate(849.6 722.4) scale(1.032 1)" font-size="25.2">10</text><text transform="translate(879.2 710.1) scale(1.682 1)" font-size="19.5">−</text><text transform="translate(899.4 710.1) scale(1.231 1)" font-size="19.5">5</text>
<text transform="translate(935.4 722.4) scale(1.032 1)" font-size="25.2">10</text><text transform="translate(965.0 710.1) scale(1.682 1)" font-size="19.5">−</text><text transform="translate(985.2 710.1) scale(1.231 1)" font-size="19.5">4</text>
<text transform="translate(1021.2 722.4) scale(1.032 1)" font-size="25.2">10</text><text transform="translate(1050.8 710.1) scale(1.682 1)" font-size="19.5">−</text><text transform="translate(1071.0 710.1) scale(1.231 1)" font-size="19.5">3</text>
<text transform="translate(1107.1 722.4) scale(1.032 1)" font-size="25.2">10</text><text transform="translate(1136.7 710.1) scale(1.682 1)" font-size="19.5">−</text><text transform="translate(1156.9 710.1) scale(1.231 1)" font-size="19.5">2</text>
<text transform="translate(1192.9 722.4) scale(1.032 1)" font-size="25.2">10</text><text transform="translate(1222.5 710.1) scale(1.682 1)" font-size="19.5">−</text><text transform="translate(1242.7 710.1) scale(1.231 1)" font-size="19.5">1</text>
<text transform="translate(1289.5 722.4) scale(1.032 1)" font-size="25.2">10</text><text transform="translate(1317.8 710.1) scale(1.231 1)" font-size="19.5">0</text>
<text transform="translate(903.2 768.0) scale(1.421 1)" font-size="25" class="i">γ</text>
<circle cx="910.9" cy="750.5" r="1.5" fill="#000"/>
<path d="M935.4 740H928.4V786H935.4M1188.6 740H1195.4V786H1188.6" stroke="#000" stroke-width="2.1" fill="none"/>
<text transform="translate(938.2 768.0) scale(1.081 1)" font-size="25">(</text>
<text transform="translate(949.7 768.0) scale(1.262 1)" font-size="25" class="i">k</text>
<text transform="translate(964.7 773.0) scale(0.942 1)" font-size="17.5">B</text>
<text transform="translate(978.2 768.0) scale(1.366 1)" font-size="25" class="i">T</text>
<text transform="translate(999.4 768.0) scale(1.081 1)" font-size="25">)</text>
<text transform="translate(1011.1 755.0) scale(1.200 1)" font-size="18.5" letter-spacing="2.81" style="stroke-width:0.15px">0.5</text>
<text transform="translate(1050.1 768.0) scale(1.302 1)" font-size="25" class="i">m</text>
<text transform="translate(1076.9 755.0) scale(1.773 1)" font-size="18.5" style="stroke-width:0.15px">−</text>
<text transform="translate(1096.6 755.0) scale(1.200 1)" font-size="18.5" letter-spacing="2.81" style="stroke-width:0.15px">0.5</text>
<text transform="translate(1135.7 768.0) scale(1.120 1)" font-size="25" class="i">a</text>
<text transform="translate(1152.9 755.0) scale(1.773 1)" font-size="18.5" style="stroke-width:0.15px">−</text>
<text transform="translate(1172.9 755.0) scale(1.297 1)" font-size="18.5" style="stroke-width:0.15px">1</text>
</g>
<g id="panel-e">
<path d="M1551.2 321.2V7.5M1637.1 321.2V7.5M1722.9 321.2V7.5M1808.7 321.2V7.5M1894.6 321.2V7.5M1465.4 294.5H1980.4M1465.4 237.0H1980.4M1465.4 179.5H1980.4M1465.4 122.0H1980.4M1465.4 64.5H1980.4" stroke="#c9c9c9" stroke-width="1.5" stroke-dasharray="7.9 2 1.2 2" fill="none"/>
<g clip-path="url(#cpe)">
<polyline fill="none" stroke="#a07cbc" stroke-width="2.0" stroke-linejoin="round" points="1543.6,305.4 1556.1,300.5 1568.7,158.2 1581.2,265.7 1593.8,251.9 1606.3,244.2 1618.8,225.1 1631.4,209.5 1643.9,212.2 1656.5,199.6 1669.0,193.6 1681.5,185.7 1694.1,190.7 1706.6,181.4 1719.2,181.4 1731.7,178.6 1744.2,173.0 1756.8,171.0 1769.3,166.8 1781.9,163.1 1794.4,156.7 1806.9,150.1 1819.5,141.0 1832.0,134.1 1844.6,126.9 1857.1,120.8 1869.6,113.8 1882.2,107.5 1894.7,103.5 1919.8,97.9"/><polygon points="1536.4,299.2 1550.8,299.2 1543.6,313.5" fill="#a07cbc"/><polygon points="1549.0,294.4 1563.3,294.4 1556.1,308.6" fill="#a07cbc"/><polygon points="1561.5,152.0 1575.8,152.0 1568.7,166.3" fill="#a07cbc"/><polygon points="1574.1,259.6 1588.4,259.6 1581.2,273.8" fill="#a07cbc"/><polygon points="1586.6,245.8 1600.9,245.8 1593.8,260.1" fill="#a07cbc"/><polygon points="1599.1,238.0 1613.5,238.0 1606.3,252.3" fill="#a07cbc"/><polygon points="1611.7,218.9 1626.0,218.9 1618.8,233.2" fill="#a07cbc"/><polygon points="1624.2,203.3 1638.5,203.3 1631.4,217.7" fill="#a07cbc"/><polygon points="1636.8,206.0 1651.1,206.0 1643.9,220.3" fill="#a07cbc"/><polygon points="1649.3,193.4 1663.6,193.4 1656.5,207.8" fill="#a07cbc"/><polygon points="1661.8,187.4 1676.2,187.4 1669.0,201.8" fill="#a07cbc"/><polygon points="1674.4,179.5 1688.7,179.5 1681.5,193.8" fill="#a07cbc"/><polygon points="1686.9,184.5 1701.2,184.5 1694.1,198.8" fill="#a07cbc"/><polygon points="1699.5,175.2 1713.8,175.2 1706.6,189.6" fill="#a07cbc"/><polygon points="1712.0,175.2 1726.3,175.2 1719.2,189.6" fill="#a07cbc"/><polygon points="1724.5,172.4 1738.8,172.4 1731.7,186.8" fill="#a07cbc"/><polygon points="1737.1,166.8 1751.4,166.8 1744.2,181.2" fill="#a07cbc"/><polygon points="1749.6,164.8 1763.9,164.8 1756.8,179.2" fill="#a07cbc"/><polygon points="1762.2,160.7 1776.5,160.7 1769.3,175.0" fill="#a07cbc"/><polygon points="1774.7,156.9 1789.0,156.9 1781.9,171.2" fill="#a07cbc"/><polygon points="1787.2,150.5 1801.5,150.5 1794.4,164.8" fill="#a07cbc"/><polygon points="1799.8,143.9 1814.1,143.9 1806.9,158.2" fill="#a07cbc"/><polygon points="1812.3,134.8 1826.6,134.8 1819.5,149.2" fill="#a07cbc"/><polygon points="1824.9,127.9 1839.2,127.9 1832.0,142.2" fill="#a07cbc"/><polygon points="1837.4,120.8 1851.7,120.8 1844.6,135.1" fill="#a07cbc"/><polygon points="1849.9,114.6 1864.2,114.6 1857.1,128.9" fill="#a07cbc"/><polygon points="1862.5,107.6 1876.8,107.6 1869.6,122.0" fill="#a07cbc"/><polygon points="1875.0,101.3 1889.3,101.3 1882.2,115.7" fill="#a07cbc"/><polygon points="1887.6,97.3 1901.9,97.3 1894.7,111.7" fill="#a07cbc"/><polygon points="1912.6,91.8 1927.0,91.8 1919.8,106.1" fill="#a07cbc"/>
<line x1="1620.9" y1="203.9" x2="1832.6" y2="154.7" stroke="#cc1f1a" stroke-width="2.2"/>
<line x1="1706.2" y1="214.8" x2="1916.3" y2="82.1" stroke="#cc1f1a" stroke-width="2.2"/>
<line x1="1783.8" y1="166.4" x2="1783.8" y2="322.0" stroke="#cc1f1a" stroke-width="1.9"/>
<polyline fill="none" stroke="#8556a8" stroke-width="2.0" stroke-linejoin="round" points="1543.6,234.3 1556.1,213.8 1568.7,219.8 1581.2,235.3 1593.8,231.0 1606.3,151.0 1618.8,182.4 1631.4,143.7 1643.9,141.0 1656.5,139.4 1669.0,147.7 1681.5,141.0 1694.1,139.4 1706.6,129.5 1719.2,128.5 1731.7,123.6 1744.2,122.0 1756.8,119.1 1781.9,110.3 1794.4,105.0 1806.9,97.4 1819.5,88.2 1832.0,81.8 1844.6,75.5"/><rect x="1537.7" y="228.4" width="11.8" height="11.8" fill="#8556a8"/><rect x="1550.2" y="207.9" width="11.8" height="11.8" fill="#8556a8"/><rect x="1562.8" y="213.9" width="11.8" height="11.8" fill="#8556a8"/><rect x="1575.3" y="229.4" width="11.8" height="11.8" fill="#8556a8"/><rect x="1587.9" y="225.1" width="11.8" height="11.8" fill="#8556a8"/><rect x="1600.4" y="145.1" width="11.8" height="11.8" fill="#8556a8"/><rect x="1612.9" y="176.5" width="11.8" height="11.8" fill="#8556a8"/><rect x="1625.5" y="137.8" width="11.8" height="11.8" fill="#8556a8"/><rect x="1638.0" y="135.1" width="11.8" height="11.8" fill="#8556a8"/><rect x="1650.6" y="133.5" width="11.8" height="11.8" fill="#8556a8"/><rect x="1663.1" y="141.8" width="11.8" height="11.8" fill="#8556a8"/><rect x="1675.6" y="135.1" width="11.8" height="11.8" fill="#8556a8"/><rect x="1688.2" y="133.5" width="11.8" height="11.8" fill="#8556a8"/><rect x="1700.7" y="123.6" width="11.8" height="11.8" fill="#8556a8"/><rect x="1713.3" y="122.6" width="11.8" height="11.8" fill="#8556a8"/><rect x="1725.8" y="117.7" width="11.8" height="11.8" fill="#8556a8"/><rect x="1738.3" y="116.1" width="11.8" height="11.8" fill="#8556a8"/><rect x="1750.9" y="113.2" width="11.8" height="11.8" fill="#8556a8"/><rect x="1776.0" y="104.4" width="11.8" height="11.8" fill="#8556a8"/><rect x="1788.5" y="99.1" width="11.8" height="11.8" fill="#8556a8"/><rect x="1801.0" y="91.5" width="11.8" height="11.8" fill="#8556a8"/><rect x="1813.6" y="82.3" width="11.8" height="11.8" fill="#8556a8"/><rect x="1826.1" y="75.9" width="11.8" height="11.8" fill="#8556a8"/><rect x="1838.7" y="69.6" width="11.8" height="11.8" fill="#8556a8"/>
<line x1="1605.0" y1="153.3" x2="1847.9" y2="105.3" stroke="#ee2a8c" stroke-width="2.2"/>
<line x1="1710.2" y1="160.2" x2="1892.3" y2="40.9" stroke="#ee2a8c" stroke-width="2.2"/>
<line x1="1771.2" y1="121.3" x2="1771.2" y2="322.0" stroke="#ee2a8c" stroke-width="1.9"/>
<polyline fill="none" stroke="#6a4ba0" stroke-width="2.0" stroke-linejoin="round" points="1537.2,265.8 1549.7,174.8 1562.3,210.5 1574.8,149.3 1587.4,125.5 1599.9,102.3 1612.4,92.4 1625.0,113.9 1637.5,83.2 1650.1,81.5 1662.6,76.5 1675.1,79.8 1687.7,82.2 1712.8,69.9 1725.3,68.9 1737.8,66.7 1750.4,63.6 1762.9,56.1 1775.5,55.4 1788.0,49.7 1800.5,43.9 1813.1,35.5 1825.6,27.9 1838.2,21.0"/><polygon points="1537.2,259.1 1543.6,263.7 1541.1,271.2 1533.3,271.2 1530.8,263.7" fill="#6a4ba0"/><polygon points="1549.7,168.1 1556.1,172.7 1553.7,180.2 1545.8,180.2 1543.4,172.7" fill="#6a4ba0"/><polygon points="1562.3,203.8 1568.6,208.4 1566.2,215.9 1558.4,215.9 1555.9,208.4" fill="#6a4ba0"/><polygon points="1574.8,142.6 1581.2,147.2 1578.7,154.7 1570.9,154.7 1568.5,147.2" fill="#6a4ba0"/><polygon points="1587.4,118.8 1593.7,123.4 1591.3,130.9 1583.4,130.9 1581.0,123.4" fill="#6a4ba0"/><polygon points="1599.9,95.6 1606.3,100.2 1603.8,107.7 1596.0,107.7 1593.5,100.2" fill="#6a4ba0"/><polygon points="1612.4,85.7 1618.8,90.3 1616.4,97.8 1608.5,97.8 1606.1,90.3" fill="#6a4ba0"/><polygon points="1625.0,107.2 1631.3,111.8 1628.9,119.3 1621.1,119.3 1618.6,111.8" fill="#6a4ba0"/><polygon points="1637.5,76.5 1643.9,81.1 1641.4,88.6 1633.6,88.6 1631.2,81.1" fill="#6a4ba0"/><polygon points="1650.1,74.8 1656.4,79.4 1654.0,86.9 1646.1,86.9 1643.7,79.4" fill="#6a4ba0"/><polygon points="1662.6,69.8 1669.0,74.4 1666.5,81.9 1658.7,81.9 1656.2,74.4" fill="#6a4ba0"/><polygon points="1675.1,73.1 1681.5,77.7 1679.1,85.2 1671.2,85.2 1668.8,77.7" fill="#6a4ba0"/><polygon points="1687.7,75.5 1694.0,80.1 1691.6,87.6 1683.8,87.6 1681.3,80.1" fill="#6a4ba0"/><polygon points="1712.8,63.2 1719.1,67.8 1716.7,75.3 1708.8,75.3 1706.4,67.8" fill="#6a4ba0"/><polygon points="1725.3,62.2 1731.7,66.8 1729.2,74.3 1721.4,74.3 1718.9,66.8" fill="#6a4ba0"/><polygon points="1737.8,60.0 1744.2,64.6 1741.8,72.1 1733.9,72.1 1731.5,64.6" fill="#6a4ba0"/><polygon points="1750.4,56.9 1756.7,61.5 1754.3,69.0 1746.5,69.0 1744.0,61.5" fill="#6a4ba0"/><polygon points="1762.9,49.4 1769.3,54.0 1766.8,61.5 1759.0,61.5 1756.6,54.0" fill="#6a4ba0"/><polygon points="1775.5,48.7 1781.8,53.3 1779.4,60.8 1771.5,60.8 1769.1,53.3" fill="#6a4ba0"/><polygon points="1788.0,43.0 1794.4,47.6 1791.9,55.1 1784.1,55.1 1781.6,47.6" fill="#6a4ba0"/><polygon points="1800.5,37.2 1806.9,41.8 1804.5,49.3 1796.6,49.3 1794.2,41.8" fill="#6a4ba0"/><polygon points="1813.1,28.8 1819.4,33.4 1817.0,40.9 1809.2,40.9 1806.7,33.4" fill="#6a4ba0"/><polygon points="1825.6,21.2 1832.0,25.8 1829.5,33.3 1821.7,33.3 1819.3,25.8" fill="#6a4ba0"/><polygon points="1838.2,14.3 1844.5,18.9 1842.1,26.4 1834.2,26.4 1831.8,18.9" fill="#6a4ba0"/>
<line x1="1601.0" y1="96.4" x2="1841.5" y2="45.5" stroke="#c452a6" stroke-width="2.2"/>
<line x1="1703.6" y1="104.7" x2="1852.1" y2="12.2" stroke="#c452a6" stroke-width="2.2"/>
<line x1="1778.5" y1="59.2" x2="1778.5" y2="322.0" stroke="#c452a6" stroke-width="1.9"/>
</g>
<path d="M1491.2 321.2v8M1506.4 321.2v8M1517.1 321.2v8M1525.4 321.2v8M1532.2 321.2v8M1537.9 321.2v8M1542.9 321.2v8M1547.3 321.2v8M1577.1 321.2v8M1592.2 321.2v8M1602.9 321.2v8M1611.2 321.2v8M1618.0 321.2v8M1623.8 321.2v8M1628.7 321.2v8M1633.1 321.2v8M1662.9 321.2v8M1678.0 321.2v8M1688.7 321.2v8M1697.1 321.2v8M1703.9 321.2v8M1709.6 321.2v8M1714.6 321.2v8M1719.0 321.2v8M1748.7 321.2v8M1763.9 321.2v8M1774.6 321.2v8M1782.9 321.2v8M1789.7 321.2v8M1795.4 321.2v8M1800.4 321.2v8M1804.8 321.2v8M1834.6 321.2v8M1849.7 321.2v8M1860.4 321.2v8M1868.7 321.2v8M1875.5 321.2v8M1881.3 321.2v8M1886.2 321.2v8M1890.6 321.2v8M1920.4 321.2v8M1935.5 321.2v8M1946.2 321.2v8M1954.6 321.2v8M1961.4 321.2v8M1967.1 321.2v8M1972.1 321.2v8M1976.5 321.2v8M1465.4 317.4h-8M1465.4 311.8h-8M1465.4 307.3h-8M1465.4 303.4h-8M1465.4 300.1h-8M1465.4 297.1h-8M1465.4 277.2h-8M1465.4 267.1h-8M1465.4 259.9h-8M1465.4 254.3h-8M1465.4 249.8h-8M1465.4 245.9h-8M1465.4 242.6h-8M1465.4 239.6h-8M1465.4 219.7h-8M1465.4 209.6h-8M1465.4 202.4h-8M1465.4 196.8h-8M1465.4 192.3h-8M1465.4 188.4h-8M1465.4 185.1h-8M1465.4 182.1h-8M1465.4 162.2h-8M1465.4 152.1h-8M1465.4 144.9h-8M1465.4 139.3h-8M1465.4 134.8h-8M1465.4 130.9h-8M1465.4 127.6h-8M1465.4 124.6h-8M1465.4 104.7h-8M1465.4 94.6h-8M1465.4 87.4h-8M1465.4 81.8h-8M1465.4 77.3h-8M1465.4 73.4h-8M1465.4 70.1h-8M1465.4 67.1h-8M1465.4 47.2h-8M1465.4 37.1h-8M1465.4 29.9h-8M1465.4 24.3h-8M1465.4 19.8h-8M1465.4 15.9h-8M1465.4 12.6h-8M1465.4 9.6h-8" stroke="#000" stroke-width="2.4" fill="none"/>
<path d="M1465.4 321.2v13.7M1551.2 321.2v13.7M1637.1 321.2v13.7M1722.9 321.2v13.7M1808.7 321.2v13.7M1894.6 321.2v13.7M1980.4 321.2v13.7M1465.4 294.5h-13.9M1465.4 237.0h-13.9M1465.4 179.5h-13.9M1465.4 122.0h-13.9M1465.4 64.5h-13.9" stroke="#000" stroke-width="3.2" fill="none"/>
<rect x="1465.4" y="7.5" width="515.0" height="313.7" fill="none" stroke="#000" stroke-width="4"/>
<text x="1481.7" y="37.9" font-size="32.5">e)</text>
</g>
<g id="panel-f">
<path d="M1551.2 668.9V355.4M1637.1 668.9V355.4M1722.9 668.9V355.4M1808.7 668.9V355.4M1894.6 668.9V355.4M1465.4 433.8H1980.4M1465.4 512.2H1980.4M1465.4 590.6H1980.4" stroke="#c9c9c9" stroke-width="1.5" stroke-dasharray="7.9 2 1.2 2" fill="none"/>
<g clip-path="url(#cpf)">
<polyline fill="none" stroke="#a07cbc" stroke-width="2.0" stroke-linejoin="round" points="1568.7,357.0 1606.3,511.1 1618.8,469.7 1631.4,446.6 1643.9,484.6 1656.5,464.8 1669.0,475.7 1681.5,479.7 1694.1,527.6 1706.6,527.6 1719.2,555.0 1731.7,577.2 1744.2,583.7 1769.3,611.1 1781.9,620.9 1794.4,624.5 1806.9,626.8 1819.5,626.6 1832.0,627.8 1844.6,630.4 1857.1,633.7 1869.6,635.7 1882.2,637.8 1894.7,642.8 1919.8,651.7"/><polygon points="1561.5,350.9 1575.8,350.9 1568.7,365.1" fill="#a07cbc"/><polygon points="1599.1,505.0 1613.5,505.0 1606.3,519.2" fill="#a07cbc"/><polygon points="1611.7,463.6 1626.0,463.6 1618.8,477.8" fill="#a07cbc"/><polygon points="1624.2,440.5 1638.5,440.5 1631.4,454.8" fill="#a07cbc"/><polygon points="1636.8,478.5 1651.1,478.5 1643.9,492.8" fill="#a07cbc"/><polygon points="1649.3,458.7 1663.6,458.7 1656.5,472.9" fill="#a07cbc"/><polygon points="1661.8,469.6 1676.2,469.6 1669.0,483.8" fill="#a07cbc"/><polygon points="1674.4,473.6 1688.7,473.6 1681.5,487.8" fill="#a07cbc"/><polygon points="1686.9,521.5 1701.2,521.5 1694.1,535.8" fill="#a07cbc"/><polygon points="1699.5,521.5 1713.8,521.5 1706.6,535.8" fill="#a07cbc"/><polygon points="1712.0,548.9 1726.3,548.9 1719.2,563.1" fill="#a07cbc"/><polygon points="1724.5,571.1 1738.8,571.1 1731.7,585.4" fill="#a07cbc"/><polygon points="1737.1,577.6 1751.4,577.6 1744.2,591.9" fill="#a07cbc"/><polygon points="1762.2,605.0 1776.5,605.0 1769.3,619.2" fill="#a07cbc"/><polygon points="1774.7,614.8 1789.0,614.8 1781.9,629.0" fill="#a07cbc"/><polygon points="1787.2,618.4 1801.5,618.4 1794.4,632.6" fill="#a07cbc"/><polygon points="1799.8,620.6 1814.1,620.6 1806.9,634.9" fill="#a07cbc"/><polygon points="1812.3,620.5 1826.6,620.5 1819.5,634.8" fill="#a07cbc"/><polygon points="1824.9,621.6 1839.2,621.6 1832.0,635.9" fill="#a07cbc"/><polygon points="1837.4,624.2 1851.7,624.2 1844.6,638.5" fill="#a07cbc"/><polygon points="1849.9,627.6 1864.2,627.6 1857.1,641.9" fill="#a07cbc"/><polygon points="1862.5,629.6 1876.8,629.6 1869.6,643.9" fill="#a07cbc"/><polygon points="1875.0,631.6 1889.3,631.6 1882.2,645.9" fill="#a07cbc"/><polygon points="1887.6,636.6 1901.9,636.6 1894.7,650.9" fill="#a07cbc"/><polygon points="1912.6,645.6 1927.0,645.6 1919.8,659.9" fill="#a07cbc"/>
<polyline fill="none" stroke="#8556a8" stroke-width="2.0" stroke-linejoin="round" points="1543.6,516.4 1556.1,468.1 1568.7,526.0 1606.3,395.3 1618.8,508.1 1631.4,413.8 1643.9,428.7 1656.5,446.6 1669.0,502.8 1681.5,512.1 1694.1,536.2 1706.6,535.2 1719.2,564.2 1731.7,577.5 1744.2,594.7 1756.8,606.6 1781.9,623.7 1794.4,628.5 1806.9,629.6 1819.5,627.8 1832.0,629.9 1844.6,633.9"/><rect x="1537.7" y="510.5" width="11.8" height="11.8" fill="#8556a8"/><rect x="1550.2" y="462.2" width="11.8" height="11.8" fill="#8556a8"/><rect x="1562.8" y="520.1" width="11.8" height="11.8" fill="#8556a8"/><rect x="1600.4" y="389.4" width="11.8" height="11.8" fill="#8556a8"/><rect x="1612.9" y="502.2" width="11.8" height="11.8" fill="#8556a8"/><rect x="1625.5" y="407.9" width="11.8" height="11.8" fill="#8556a8"/><rect x="1638.0" y="422.8" width="11.8" height="11.8" fill="#8556a8"/><rect x="1650.6" y="440.7" width="11.8" height="11.8" fill="#8556a8"/><rect x="1663.1" y="496.9" width="11.8" height="11.8" fill="#8556a8"/><rect x="1675.6" y="506.2" width="11.8" height="11.8" fill="#8556a8"/><rect x="1688.2" y="530.3" width="11.8" height="11.8" fill="#8556a8"/><rect x="1700.7" y="529.3" width="11.8" height="11.8" fill="#8556a8"/><rect x="1713.3" y="558.3" width="11.8" height="11.8" fill="#8556a8"/><rect x="1725.8" y="571.6" width="11.8" height="11.8" fill="#8556a8"/><rect x="1738.3" y="588.8" width="11.8" height="11.8" fill="#8556a8"/><rect x="1750.9" y="600.7" width="11.8" height="11.8" fill="#8556a8"/><rect x="1776.0" y="617.8" width="11.8" height="11.8" fill="#8556a8"/><rect x="1788.5" y="622.6" width="11.8" height="11.8" fill="#8556a8"/><rect x="1801.0" y="623.7" width="11.8" height="11.8" fill="#8556a8"/><rect x="1813.6" y="621.9" width="11.8" height="11.8" fill="#8556a8"/><rect x="1826.1" y="624.0" width="11.8" height="11.8" fill="#8556a8"/><rect x="1838.7" y="628.0" width="11.8" height="11.8" fill="#8556a8"/>
<polyline fill="none" stroke="#6a4ba0" stroke-width="2.0" stroke-linejoin="round" points="1549.7,521.0 1625.0,480.7 1637.5,412.9 1650.1,429.4 1662.6,440.3 1675.1,476.7 1687.7,519.7 1712.8,541.0 1725.3,567.2 1737.8,585.6 1750.4,599.7 1762.9,604.6 1775.5,618.9 1788.0,624.6 1800.5,628.2 1813.1,627.8 1825.6,628.2 1838.2,632.1"/><polygon points="1549.7,514.3 1556.1,518.9 1553.7,526.4 1545.8,526.4 1543.4,518.9" fill="#6a4ba0"/><polygon points="1625.0,474.0 1631.3,478.6 1628.9,486.1 1621.1,486.1 1618.6,478.6" fill="#6a4ba0"/><polygon points="1637.5,406.2 1643.9,410.8 1641.4,418.3 1633.6,418.3 1631.2,410.8" fill="#6a4ba0"/><polygon points="1650.1,422.7 1656.4,427.3 1654.0,434.8 1646.1,434.8 1643.7,427.3" fill="#6a4ba0"/><polygon points="1662.6,433.6 1669.0,438.2 1666.5,445.7 1658.7,445.7 1656.2,438.2" fill="#6a4ba0"/><polygon points="1675.1,470.0 1681.5,474.6 1679.1,482.1 1671.2,482.1 1668.8,474.6" fill="#6a4ba0"/><polygon points="1687.7,513.0 1694.0,517.6 1691.6,525.1 1683.8,525.1 1681.3,517.6" fill="#6a4ba0"/><polygon points="1712.8,534.3 1719.1,538.9 1716.7,546.4 1708.8,546.4 1706.4,538.9" fill="#6a4ba0"/><polygon points="1725.3,560.5 1731.7,565.1 1729.2,572.6 1721.4,572.6 1718.9,565.1" fill="#6a4ba0"/><polygon points="1737.8,578.9 1744.2,583.5 1741.8,591.0 1733.9,591.0 1731.5,583.5" fill="#6a4ba0"/><polygon points="1750.4,593.0 1756.7,597.6 1754.3,605.1 1746.5,605.1 1744.0,597.6" fill="#6a4ba0"/><polygon points="1762.9,597.9 1769.3,602.5 1766.8,610.0 1759.0,610.0 1756.6,602.5" fill="#6a4ba0"/><polygon points="1775.5,612.2 1781.8,616.8 1779.4,624.3 1771.5,624.3 1769.1,616.8" fill="#6a4ba0"/><polygon points="1788.0,617.9 1794.4,622.5 1791.9,630.0 1784.1,630.0 1781.6,622.5" fill="#6a4ba0"/><polygon points="1800.5,621.5 1806.9,626.1 1804.5,633.6 1796.6,633.6 1794.2,626.1" fill="#6a4ba0"/><polygon points="1813.1,621.1 1819.4,625.7 1817.0,633.2 1809.2,633.2 1806.7,625.7" fill="#6a4ba0"/><polygon points="1825.6,621.5 1832.0,626.1 1829.5,633.6 1821.7,633.6 1819.3,626.1" fill="#6a4ba0"/><polygon points="1838.2,625.4 1844.5,630.0 1842.1,637.5 1834.2,637.5 1831.8,630.0" fill="#6a4ba0"/>
</g>
<path d="M1491.2 668.9v8M1506.4 668.9v8M1517.1 668.9v8M1525.4 668.9v8M1532.2 668.9v8M1537.9 668.9v8M1542.9 668.9v8M1547.3 668.9v8M1577.1 668.9v8M1592.2 668.9v8M1602.9 668.9v8M1611.2 668.9v8M1618.0 668.9v8M1623.8 668.9v8M1628.7 668.9v8M1633.1 668.9v8M1662.9 668.9v8M1678.0 668.9v8M1688.7 668.9v8M1697.1 668.9v8M1703.9 668.9v8M1709.6 668.9v8M1714.6 668.9v8M1719.0 668.9v8M1748.7 668.9v8M1763.9 668.9v8M1774.6 668.9v8M1782.9 668.9v8M1789.7 668.9v8M1795.4 668.9v8M1800.4 668.9v8M1804.8 668.9v8M1834.6 668.9v8M1849.7 668.9v8M1860.4 668.9v8M1868.7 668.9v8M1875.5 668.9v8M1881.3 668.9v8M1886.2 668.9v8M1890.6 668.9v8M1920.4 668.9v8M1935.5 668.9v8M1946.2 668.9v8M1954.6 668.9v8M1961.4 668.9v8M1967.1 668.9v8M1972.1 668.9v8M1976.5 668.9v8" stroke="#000" stroke-width="2.4" fill="none"/>
<path d="M1465.4 668.9v13.7M1551.2 668.9v13.7M1637.1 668.9v13.7M1722.9 668.9v13.7M1808.7 668.9v13.7M1894.6 668.9v13.7M1980.4 668.9v13.7M1465.4 355.4h-13.9M1465.4 433.8h-13.9M1465.4 512.2h-13.9M1465.4 590.6h-13.9M1465.4 668.9h-13.9" stroke="#000" stroke-width="3.2" fill="none"/>
<rect x="1465.4" y="355.4" width="515.0" height="313.5" fill="none" stroke="#000" stroke-width="4"/>
<text x="1481.7" y="385.8" font-size="32.5">f)</text>
<text transform="translate(1433.4 722.4) scale(1.032 1)" font-size="25.2">10</text><text transform="translate(1463.0 710.1) scale(1.682 1)" font-size="19.5">−</text><text transform="translate(1483.2 710.1) scale(1.231 1)" font-size="19.5">6</text>
<text transform="translate(1519.2 722.4) scale(1.032 1)" font-size="25.2">10</text><text transform="translate(1548.8 710.1) scale(1.682 1)" font-size="19.5">−</text><text transform="translate(1569.0 710.1) scale(1.231 1)" font-size="19.5">5</text>
<text transform="translate(1605.0 722.4) scale(1.032 1)" font-size="25.2">10</text><text transform="translate(1634.6 710.1) scale(1.682 1)" font-size="19.5">−</text><text transform="translate(1654.8 710.1) scale(1.231 1)" font-size="19.5">4</text>
<text transform="translate(1690.8 722.4) scale(1.032 1)" font-size="25.2">10</text><text transform="translate(1720.4 710.1) scale(1.682 1)" font-size="19.5">−</text><text transform="translate(1740.6 710.1) scale(1.231 1)" font-size="19.5">3</text>
<text transform="translate(1776.7 722.4) scale(1.032 1)" font-size="25.2">10</text><text transform="translate(1806.3 710.1) scale(1.682 1)" font-size="19.5">−</text><text transform="translate(1826.5 710.1) scale(1.231 1)" font-size="19.5">2</text>
<text transform="translate(1862.5 722.4) scale(1.032 1)" font-size="25.2">10</text><text transform="translate(1892.1 710.1) scale(1.682 1)" font-size="19.5">−</text><text transform="translate(1912.3 710.1) scale(1.231 1)" font-size="19.5">1</text>
<text transform="translate(1959.1 722.4) scale(1.032 1)" font-size="25.2">10</text><text transform="translate(1987.4 710.1) scale(1.231 1)" font-size="19.5">0</text>
<text transform="translate(1572.8 768.0) scale(1.421 1)" font-size="25" class="i">γ</text>
<circle cx="1580.5" cy="750.5" r="1.5" fill="#000"/>
<path d="M1605.0 740H1598.0V786H1605.0M1858.2 740H1865.0V786H1858.2" stroke="#000" stroke-width="2.1" fill="none"/>
<text transform="translate(1607.8 768.0) scale(1.081 1)" font-size="25">(</text>
<text transform="translate(1619.3 768.0) scale(1.262 1)" font-size="25" class="i">k</text>
<text transform="translate(1634.3 773.0) scale(0.942 1)" font-size="17.5">B</text>
<text transform="translate(1647.8 768.0) scale(1.366 1)" font-size="25" class="i">T</text>
<text transform="translate(1669.0 768.0) scale(1.081 1)" font-size="25">)</text>
<text transform="translate(1680.7 755.0) scale(1.200 1)" font-size="18.5" letter-spacing="2.81" style="stroke-width:0.15px">0.5</text>
<text transform="translate(1719.7 768.0) scale(1.302 1)" font-size="25" class="i">m</text>
<text transform="translate(1746.5 755.0) scale(1.773 1)" font-size="18.5" style="stroke-width:0.15px">−</text>
<text transform="translate(1766.2 755.0) scale(1.200 1)" font-size="18.5" letter-spacing="2.81" style="stroke-width:0.15px">0.5</text>
<text transform="translate(1805.3 768.0) scale(1.120 1)" font-size="25" class="i">a</text>
<text transform="translate(1822.5 755.0) scale(1.773 1)" font-size="18.5" style="stroke-width:0.15px">−</text>
<text transform="translate(1842.5 755.0) scale(1.297 1)" font-size="18.5" style="stroke-width:0.15px">1</text>
</g>
<text x="97.5" y="16.1" font-size="24.6" text-anchor="end">1.0</text>
<text x="97.5" y="78.9" font-size="24.6" text-anchor="end">0.8</text>
<text x="97.5" y="141.6" font-size="24.6" text-anchor="end">0.6</text>
<text x="97.5" y="204.3" font-size="24.6" text-anchor="end">0.4</text>
<text x="97.5" y="267.0" font-size="24.6" text-anchor="end">0.2</text>
<text x="97.5" y="329.8" font-size="24.6" text-anchor="end">0.0</text>
<text x="97.5" y="364.0" font-size="24.6" text-anchor="end">0.20</text>
<text x="97.5" y="468.5" font-size="24.6" text-anchor="end">0.15</text>
<text x="97.5" y="573.0" font-size="24.6" text-anchor="end">0.10</text>
<text x="97.5" y="677.5" font-size="24.6" text-anchor="end">0.05</text>
<text transform="translate(703.0 327.9) scale(1.032 1)" font-size="25.2">10</text><text transform="translate(732.6 315.6) scale(1.682 1)" font-size="19.5">−</text><text transform="translate(752.8 315.6) scale(1.231 1)" font-size="19.5">1</text>
<text transform="translate(724.5 271.8) scale(1.032 1)" font-size="25.2">10</text><text transform="translate(752.8 259.5) scale(1.231 1)" font-size="19.5">0</text>
<text transform="translate(724.5 215.7) scale(1.032 1)" font-size="25.2">10</text><text transform="translate(752.8 203.4) scale(1.231 1)" font-size="19.5">1</text>
<text transform="translate(724.5 159.7) scale(1.032 1)" font-size="25.2">10</text><text transform="translate(752.8 147.4) scale(1.231 1)" font-size="19.5">2</text>
<text transform="translate(724.5 103.6) scale(1.032 1)" font-size="25.2">10</text><text transform="translate(752.8 91.3) scale(1.231 1)" font-size="19.5">3</text>
<text transform="translate(724.5 47.5) scale(1.032 1)" font-size="25.2">10</text><text transform="translate(752.8 35.2) scale(1.231 1)" font-size="19.5">4</text>
<text transform="translate(1372.7 304.9) scale(1.032 1)" font-size="25.2">10</text><text transform="translate(1402.3 292.6) scale(1.682 1)" font-size="19.5">−</text><text transform="translate(1422.5 292.6) scale(1.231 1)" font-size="19.5">1</text>
<text transform="translate(1394.2 247.4) scale(1.032 1)" font-size="25.2">10</text><text transform="translate(1422.5 235.1) scale(1.231 1)" font-size="19.5">0</text>
<text transform="translate(1394.2 189.9) scale(1.032 1)" font-size="25.2">10</text><text transform="translate(1422.5 177.6) scale(1.231 1)" font-size="19.5">1</text>
<text transform="translate(1394.2 132.4) scale(1.032 1)" font-size="25.2">10</text><text transform="translate(1422.5 120.1) scale(1.231 1)" font-size="19.5">2</text>
<text transform="translate(1394.2 74.9) scale(1.032 1)" font-size="25.2">10</text><text transform="translate(1422.5 62.6) scale(1.231 1)" font-size="19.5">3</text>
<text transform="translate(746.3 351.2) scale(1.375 1)" font-size="22.5" class="i">π</text><path d="M744.8 364.0h18.2" stroke="#000" stroke-width="1.5"/><text transform="translate(747.6 391.9) scale(1.042 1)" font-size="24">4</text>
<text transform="translate(730.7 432.2) scale(1.000 1)" font-size="24">3</text><text transform="translate(745.8 431.4) scale(1.375 1)" font-size="22.5" class="i">π</text><path d="M730.0 444.4h33.0" stroke="#000" stroke-width="1.5"/><text transform="translate(733.0 472.2) scale(1.125 1)" font-size="24">16</text>
<text transform="translate(746.3 508.0) scale(1.375 1)" font-size="22.5" class="i">π</text><path d="M744.8 520.8h18.2" stroke="#000" stroke-width="1.5"/><text transform="translate(747.6 548.7) scale(1.042 1)" font-size="24">8</text>
<text transform="translate(742.9 586.4) scale(1.375 1)" font-size="22.5" class="i">π</text><path d="M733.0 599.2h30.0" stroke="#000" stroke-width="1.5"/><text transform="translate(734.5 627.1) scale(1.125 1)" font-size="24">16</text>
<text x="767.5" y="676.4" font-size="24" text-anchor="end">0</text>
<text transform="translate(1415.9 351.2) scale(1.375 1)" font-size="22.5" class="i">π</text><path d="M1414.4 364.0h18.2" stroke="#000" stroke-width="1.5"/><text transform="translate(1417.2 391.9) scale(1.042 1)" font-size="24">4</text>
<text transform="translate(1400.3 432.2) scale(1.000 1)" font-size="24">3</text><text transform="translate(1415.4 431.4) scale(1.375 1)" font-size="22.5" class="i">π</text><path d="M1399.6 444.4h33.0" stroke="#000" stroke-width="1.5"/><text transform="translate(1402.6 472.2) scale(1.125 1)" font-size="24">16</text>
<text transform="translate(1415.9 508.0) scale(1.375 1)" font-size="22.5" class="i">π</text><path d="M1414.4 520.8h18.2" stroke="#000" stroke-width="1.5"/><text transform="translate(1417.2 548.7) scale(1.042 1)" font-size="24">8</text>
<text transform="translate(1412.5 586.4) scale(1.375 1)" font-size="22.5" class="i">π</text><path d="M1402.6 599.2h30.0" stroke="#000" stroke-width="1.5"/><text transform="translate(1404.1 627.1) scale(1.125 1)" font-size="24">16</text>
<text x="1437.1" y="676.4" font-size="24" text-anchor="end">0</text>
<g transform="translate(46.3 165.4) rotate(-90)"><text transform="translate(-62.0 0.0) scale(1.033 1)" font-size="25" class="i">δ</text><text transform="translate(-47.3 -9.0) scale(1.000 1)" font-size="22">*</text><text x="-23.6" y="1.0" font-size="27" style="stroke-width:0">∈</text><text x="7.0" y="0.8" font-size="28">[</text><text transform="translate(14.0 0.0) scale(1.250 1)" font-size="24">0</text><text x="29.3" y="0.0" font-size="24">;</text><text transform="translate(39.3 0.0) scale(1.208 1)" font-size="24">1</text><text x="53.0" y="0.8" font-size="28">]</text></g>
<g transform="translate(27.8 512.3) rotate(-90)"><text transform="translate(-70.5 0.0) scale(1.262 1)" font-size="25" class="i">c</text><text transform="translate(-57.5 0.0) scale(1.261 1)" font-size="25">(</text><text transform="translate(-45.8 0.0) scale(1.370 1)" font-size="25" class="i">γ</text><circle cx="-38.3" cy="-17.5" r="1.5" fill="#000"/><text transform="translate(-31.8 0.0) scale(1.165 1)" font-size="25">)</text><text transform="translate(-17.8 0.0) scale(1.915 1)" font-size="25">/</text><text transform="translate(-2.2 0.0) scale(1.277 1)" font-size="25" class="i">R</text><text transform="translate(18.4 -10.5) scale(1.300 1)" font-size="18">2</text><text transform="translate(17.9 7.0) scale(1.167 1)" font-size="18">g</text><text transform="translate(31.3 0.0) scale(1.200 1)" font-size="25" letter-spacing="1.97">(0)</text></g>
<g transform="translate(680.2 165.2) rotate(-90)"><text transform="translate(-61.0 0.0) scale(1.191 1)" font-size="25" class="i">m</text><text transform="translate(-37.0 4.6) scale(0.949 1)" font-size="17.5">G</text><text x="-11.8" y="5.4" font-size="33" style="stroke-width:0">×</text><text transform="translate(17.3 0.0) scale(1.180 1)" font-size="25">10</text><text transform="translate(47.5 -13.0) scale(1.565 1)" font-size="18" class="i">k</text></g>
<g transform="translate(704.5 513.0) rotate(-90)"><text transform="translate(-32.0 0.0) scale(0.979 1)" font-size="26" class="i">θ</text><text transform="translate(-18.5 0.0) scale(0.963 1)" font-size="27">[rad]</text></g>
<g transform="translate(1349.8 165.2) rotate(-90)"><text transform="translate(-61.0 0.0) scale(1.191 1)" font-size="25" class="i">m</text><text transform="translate(-37.0 4.6) scale(0.949 1)" font-size="17.5">G</text><text x="-11.8" y="5.4" font-size="33" style="stroke-width:0">×</text><text transform="translate(17.3 0.0) scale(1.180 1)" font-size="25">10</text><text transform="translate(47.5 -13.0) scale(1.565 1)" font-size="18" class="i">k</text></g>
<g transform="translate(1374.1 513.0) rotate(-90)"><text transform="translate(-32.0 0.0) scale(0.979 1)" font-size="26" class="i">θ</text><text transform="translate(-18.5 0.0) scale(0.963 1)" font-size="27">[rad]</text></g>
<rect x="383.6" y="203.6" width="245.4" height="108.3" rx="3.6" fill="#fff" fill-opacity="0.8" stroke="#cccccc" stroke-opacity="0.85" stroke-width="4"/><path d="M392.3 221.5h50" stroke="#8cb0d1" stroke-width="2.0"/><circle cx="417.3" cy="221.5" r="4.90" fill="#8cb0d1"/><text transform="translate(460.0 229.5) scale(1.235 1)" font-size="23">0</text><text transform="translate(475.2 234.7) scale(1.333 1)" font-size="16.5">1</text><text transform="translate(490.1 229.5) scale(1.091 1)" font-size="22">,</text><text transform="translate(510.1 229.5) scale(1.597 1)" font-size="23" class="i">N</text><text transform="translate(544.6 229.5) scale(1.588 1)" font-size="24">=</text><text transform="translate(575.4 229.5) scale(1.200 1)" font-size="23" letter-spacing="0.67">100</text><path d="M392.3 255.3h50" stroke="#6a7fbb" stroke-width="2.0"/><circle cx="417.3" cy="255.3" r="5.95" fill="#6a7fbb"/><text transform="translate(460.0 263.3) scale(1.235 1)" font-size="23">0</text><text transform="translate(475.2 268.5) scale(1.333 1)" font-size="16.5">1</text><text transform="translate(490.1 263.3) scale(1.091 1)" font-size="22">,</text><text transform="translate(510.1 263.3) scale(1.597 1)" font-size="23" class="i">N</text><text transform="translate(544.6 263.3) scale(1.588 1)" font-size="24">=</text><text transform="translate(575.4 263.3) scale(1.200 1)" font-size="23" letter-spacing="0.67">150</text><path d="M392.3 289.1h50" stroke="#27334c" stroke-width="2.0"/><circle cx="417.3" cy="289.1" r="6.90" fill="#27334c"/><text transform="translate(460.0 297.1) scale(1.235 1)" font-size="23">0</text><text transform="translate(475.2 302.3) scale(1.333 1)" font-size="16.5">1</text><text transform="translate(490.1 297.1) scale(1.091 1)" font-size="22">,</text><text transform="translate(510.1 297.1) scale(1.597 1)" font-size="23" class="i">N</text><text transform="translate(544.6 297.1) scale(1.588 1)" font-size="24">=</text><text transform="translate(575.4 297.1) scale(1.200 1)" font-size="23" letter-spacing="0.67">200</text>
<rect x="383.6" y="368.0" width="245.4" height="108.3" rx="3.6" fill="#fff" fill-opacity="0.8" stroke="#cccccc" stroke-opacity="0.85" stroke-width="4"/><path d="M392.3 385.9h50" stroke="#8cb0d1" stroke-width="2.0"/><circle cx="417.3" cy="385.9" r="4.90" fill="#8cb0d1"/><text transform="translate(460.0 393.9) scale(1.235 1)" font-size="23">0</text><text transform="translate(475.2 399.1) scale(1.333 1)" font-size="16.5">1</text><text transform="translate(490.1 393.9) scale(1.091 1)" font-size="22">,</text><text transform="translate(510.1 393.9) scale(1.597 1)" font-size="23" class="i">N</text><text transform="translate(544.6 393.9) scale(1.588 1)" font-size="24">=</text><text transform="translate(575.4 393.9) scale(1.200 1)" font-size="23" letter-spacing="0.67">100</text><path d="M392.3 419.7h50" stroke="#6a7fbb" stroke-width="2.0"/><circle cx="417.3" cy="419.7" r="5.95" fill="#6a7fbb"/><text transform="translate(460.0 427.7) scale(1.235 1)" font-size="23">0</text><text transform="translate(475.2 432.9) scale(1.333 1)" font-size="16.5">1</text><text transform="translate(490.1 427.7) scale(1.091 1)" font-size="22">,</text><text transform="translate(510.1 427.7) scale(1.597 1)" font-size="23" class="i">N</text><text transform="translate(544.6 427.7) scale(1.588 1)" font-size="24">=</text><text transform="translate(575.4 427.7) scale(1.200 1)" font-size="23" letter-spacing="0.67">150</text><path d="M392.3 453.5h50" stroke="#27334c" stroke-width="2.0"/><circle cx="417.3" cy="453.5" r="6.90" fill="#27334c"/><text transform="translate(460.0 461.5) scale(1.235 1)" font-size="23">0</text><text transform="translate(475.2 466.7) scale(1.333 1)" font-size="16.5">1</text><text transform="translate(490.1 461.5) scale(1.091 1)" font-size="22">,</text><text transform="translate(510.1 461.5) scale(1.597 1)" font-size="23" class="i">N</text><text transform="translate(544.6 461.5) scale(1.588 1)" font-size="24">=</text><text transform="translate(575.4 461.5) scale(1.200 1)" font-size="23" letter-spacing="0.67">200</text>
<rect x="1053.3" y="368.0" width="245.4" height="108.3" rx="3.6" fill="#fff" fill-opacity="0.8" stroke="#cccccc" stroke-opacity="0.85" stroke-width="4"/><path d="M1062.0 385.9h50" stroke="#8cb0d1" stroke-width="2.0"/><circle cx="1087.0" cy="385.9" r="4.90" fill="#8cb0d1"/><text transform="translate(1129.7 393.9) scale(1.235 1)" font-size="23">0</text><text transform="translate(1144.9 399.1) scale(1.333 1)" font-size="16.5">1</text><text transform="translate(1159.8 393.9) scale(1.091 1)" font-size="22">,</text><text transform="translate(1179.8 393.9) scale(1.597 1)" font-size="23" class="i">N</text><text transform="translate(1214.3 393.9) scale(1.588 1)" font-size="24">=</text><text transform="translate(1245.1 393.9) scale(1.200 1)" font-size="23" letter-spacing="0.67">100</text><path d="M1062.0 419.7h50" stroke="#6a7fbb" stroke-width="2.0"/><circle cx="1087.0" cy="419.7" r="5.95" fill="#6a7fbb"/><text transform="translate(1129.7 427.7) scale(1.235 1)" font-size="23">0</text><text transform="translate(1144.9 432.9) scale(1.333 1)" font-size="16.5">1</text><text transform="translate(1159.8 427.7) scale(1.091 1)" font-size="22">,</text><text transform="translate(1179.8 427.7) scale(1.597 1)" font-size="23" class="i">N</text><text transform="translate(1214.3 427.7) scale(1.588 1)" font-size="24">=</text><text transform="translate(1245.1 427.7) scale(1.200 1)" font-size="23" letter-spacing="0.67">150</text><path d="M1062.0 453.5h50" stroke="#27334c" stroke-width="2.0"/><circle cx="1087.0" cy="453.5" r="6.90" fill="#27334c"/><text transform="translate(1129.7 461.5) scale(1.235 1)" font-size="23">0</text><text transform="translate(1144.9 466.7) scale(1.333 1)" font-size="16.5">1</text><text transform="translate(1159.8 461.5) scale(1.091 1)" font-size="22">,</text><text transform="translate(1179.8 461.5) scale(1.597 1)" font-size="23" class="i">N</text><text transform="translate(1214.3 461.5) scale(1.588 1)" font-size="24">=</text><text transform="translate(1245.1 461.5) scale(1.200 1)" font-size="23" letter-spacing="0.67">200</text>
<rect x="1722.0" y="368.0" width="245.4" height="108.3" rx="3.6" fill="#fff" fill-opacity="0.8" stroke="#cccccc" stroke-opacity="0.85" stroke-width="4"/><path d="M1730.7 385.9h50" stroke="#a07cbc" stroke-width="2.0"/><polygon points="1748.5,379.8 1762.9,379.8 1755.7,394.0" fill="#a07cbc"/><text transform="translate(1798.4 393.9) scale(1.235 1)" font-size="23">3</text><text transform="translate(1813.6 399.1) scale(1.333 1)" font-size="16.5">1</text><text transform="translate(1828.5 393.9) scale(1.091 1)" font-size="22">,</text><text transform="translate(1848.5 393.9) scale(1.597 1)" font-size="23" class="i">N</text><text transform="translate(1883.0 393.9) scale(1.588 1)" font-size="24">=</text><text transform="translate(1913.8 393.9) scale(1.200 1)" font-size="23" letter-spacing="0.67">200</text><path d="M1730.7 419.7h50" stroke="#8556a8" stroke-width="2.0"/><rect x="1749.8" y="413.8" width="11.8" height="11.8" fill="#8556a8"/><text transform="translate(1798.4 427.7) scale(1.235 1)" font-size="23">4</text><text transform="translate(1813.6 432.9) scale(1.333 1)" font-size="16.5">1</text><text transform="translate(1828.5 427.7) scale(1.091 1)" font-size="22">,</text><text transform="translate(1848.5 427.7) scale(1.597 1)" font-size="23" class="i">N</text><text transform="translate(1883.0 427.7) scale(1.588 1)" font-size="24">=</text><text transform="translate(1913.8 427.7) scale(1.200 1)" font-size="23" letter-spacing="0.67">200</text><path d="M1730.7 453.5h50" stroke="#6a4ba0" stroke-width="2.0"/><polygon points="1755.7,446.8 1762.1,451.4 1759.6,458.9 1751.8,458.9 1749.3,451.4" fill="#6a4ba0"/><text transform="translate(1798.4 461.5) scale(1.235 1)" font-size="23">5</text><text transform="translate(1813.6 466.7) scale(1.333 1)" font-size="16.5">1</text><text transform="translate(1828.5 461.5) scale(1.091 1)" font-size="22">,</text><text transform="translate(1848.5 461.5) scale(1.597 1)" font-size="23" class="i">N</text><text transform="translate(1883.0 461.5) scale(1.588 1)" font-size="24">=</text><text transform="translate(1913.8 461.5) scale(1.200 1)" font-size="23" letter-spacing="0.67">200</text>
<rect x="1156.4" y="203.9" width="146.8" height="107.8" rx="3.6" fill="#fff" fill-opacity="0.8" stroke="#cccccc" stroke-opacity="0.85" stroke-width="4"/><path d="M1164.5 221.1h50" stroke="#8cb0d1" stroke-width="2.0"/><circle cx="1189.5" cy="221.1" r="4.90" fill="#8cb0d1"/><text transform="translate(1233.9 229.7) scale(1.361 1)" font-size="24" class="i" style="stroke-width:0.4px">k</text><text transform="translate(1258.4 229.7) scale(1.551 1)" font-size="24">=</text><text transform="translate(1279.4 229.7) scale(1.113 1)" font-size="23">0</text><path d="M1164.5 255.2h50" stroke="#6a7fbb" stroke-width="2.0"/><circle cx="1189.5" cy="255.2" r="5.95" fill="#6a7fbb"/><text transform="translate(1233.9 263.8) scale(1.361 1)" font-size="24" class="i" style="stroke-width:0.4px">k</text><text transform="translate(1258.4 263.8) scale(1.551 1)" font-size="24">=</text><text transform="translate(1279.4 263.8) scale(1.113 1)" font-size="23">1</text><path d="M1164.5 289.3h50" stroke="#27334c" stroke-width="2.0"/><circle cx="1189.5" cy="289.3" r="6.90" fill="#27334c"/><text transform="translate(1233.9 297.9) scale(1.361 1)" font-size="24" class="i" style="stroke-width:0.4px">k</text><text transform="translate(1258.4 297.9) scale(1.551 1)" font-size="24">=</text><text transform="translate(1279.4 297.9) scale(1.113 1)" font-size="23">2</text>
<rect x="1825.8" y="203.9" width="146.8" height="107.8" rx="3.6" fill="#fff" fill-opacity="0.8" stroke="#cccccc" stroke-opacity="0.85" stroke-width="4"/><path d="M1833.9 221.1h50" stroke="#a07cbc" stroke-width="2.0"/><polygon points="1851.7,214.9 1866.0,214.9 1858.9,229.2" fill="#a07cbc"/><text transform="translate(1903.3 229.7) scale(1.361 1)" font-size="24" class="i" style="stroke-width:0.4px">k</text><text transform="translate(1927.8 229.7) scale(1.551 1)" font-size="24">=</text><text transform="translate(1948.8 229.7) scale(1.113 1)" font-size="23">0</text><path d="M1833.9 255.2h50" stroke="#8556a8" stroke-width="2.0"/><rect x="1853.0" y="249.3" width="11.8" height="11.8" fill="#8556a8"/><text transform="translate(1903.3 263.8) scale(1.361 1)" font-size="24" class="i" style="stroke-width:0.4px">k</text><text transform="translate(1927.8 263.8) scale(1.551 1)" font-size="24">=</text><text transform="translate(1948.8 263.8) scale(1.113 1)" font-size="23">1</text><path d="M1833.9 289.3h50" stroke="#6a4ba0" stroke-width="2.0"/><polygon points="1858.9,282.6 1865.3,287.2 1862.8,294.7 1855.0,294.7 1852.5,287.2" fill="#6a4ba0"/><text transform="translate(1903.3 297.9) scale(1.361 1)" font-size="24" class="i" style="stroke-width:0.4px">k</text><text transform="translate(1927.8 297.9) scale(1.551 1)" font-size="24">=</text><text transform="translate(1948.8 297.9) scale(1.113 1)" font-size="23">2</text>
</svg></body></html>
